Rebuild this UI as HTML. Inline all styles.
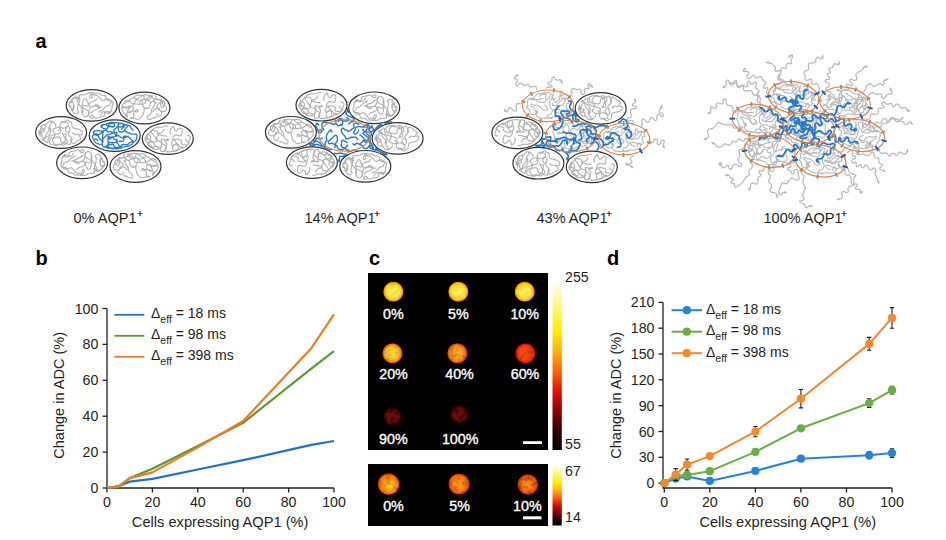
<!DOCTYPE html>
<html><head><meta charset="utf-8"><style>
html,body{margin:0;padding:0;background:#fff;width:946px;height:540px;overflow:hidden}
svg{display:block;font-family:"Liberation Sans", sans-serif}
</style></head><body>
<svg width="946" height="540" viewBox="0 0 946 540">
<defs><g id="g0"><path d="M-18.3 .2l0 .1 0 .3 0 .4-.1 .5 0 .5-.2 .5-.2 .5-.2 .5-.1 .6 0 .6 .1 .7 .2 .7 .2 .6 .3 .6 .4 .4 .4 .4 .5 .3 .4 .1 .5 .1 .6-.1 .5-.1 .5-.3 .5-.3 .5-.4 .3-.4 0-.4-.2-.5-.4-.5-.3-.6-.1-.6 0-.8 .1-.8 .1-.8 .1-.9 .1-.8 .2-.9 .1-.7 .3-.6 .2-.5 .3-.5 .2-.4 .1-.5 0-.5-.1-.5-.2-.5-.3-.5-.4-.6-.4-.5-.6-.3-.6-.2-.8-.1-.8 .1-.8 .1-.7 .2-.5 .1-.6 .2-.4 .3-.3 .5-.2 .5-.2 .6 0 .6 .2 .5 .3 .3 .5 .3 .4 .4 .3 .4 .3 .6 .3 .7 .2 .6 .1 .7 0 .6 0 .7 0 .6-.2 .7-.1 .6-.2 .6-.3 .5-.4 .4-.4 .2-.5 0-.3-.1-.2-.3-.1-.4 .2-.6 0-.6-.2-.6-.2-.7-.4-.6-.3-.4-.2-.3-.1-.2 M-.6 -11.6l0 .1-.2 .3-.2 .4-.3 .5-.3 .5-.2 .6-.2 .5-.2 .6 0 .5 .2 .3 .3 .3 .6 .1 .4-.1 .4-.3 .3-.6 .2-.7 .1-.7 .1-.7 0-.6 0-.6 .1-.3 .3 0 .5 .2 .6 .6 .7 .4 .6 .1 .5 0 .6-.2 .5 0 .5 .2 .5 .4 .4 .5 .5 .6 .5 .5 .5 .4 .4 .4 .5 .5 .4 .4 .4 .5 .4 .5 .4 .4 .4 .2 .5 0 .5-.2 .5-.1 .7-.3 .7-.3 .7-.3 .8-.2 .7-.1 .8 .1 .7 .2 .8 .3 .6 .4 .7 .5 .6 .5 .4 .5 0 .3-.2 .3-.5 .2-.4 .3-.4 .5-.3 .6-.2 .8-.4 .6-.4 .4-.5 .3-.6 .2-.6 .1-.6 .1-.5 .2-.5 .2-.4 .3-.5 .4-.4 .5-.4 .6-.5 .6-.5 .5-.5 .4-.6 .3-.5 .3-.6 .3-.5 .3-.6 .3-.3 .2-.3 .2-.1 .1 M-5 11l.1 0 .2-.1 .4-.2 .5-.2 .4-.4 .3-.4 .3-.6 .1-.7 0-.7-.1-.6-.3-.6-.4-.6-.4-.6-.5-.4-.5-.3-.6-.2-.5-.3-.6-.3-.6-.3-.6-.4-.6-.5-.4-.4-.3-.5-.3-.5-.1-.5-.1-.7 0-.7 .1-.7 .1-.8 .2-.7 .2-.7 .3-.6 .3-.6 .4-.6 .4-.6 .6-.5 .4-.2 .5 0 .5 .4 .5 .7 .4 .8 .3 .7 .4 .7 .3 .8 .2 .7 .3 .6 .3 .6 .3 .6 .3 .5 .3 .4 .3 .4 .4 .4 .5 .2 .5 0 .7-.2 .8-.4 .7-.3 .6-.4 .4-.4 .3-.4 .4-.3 .5-.1 .6 0 .7 .2 .6 .3 .6 .3 .6 .5 .6 .5 .3 .5 .1 .5-.2 .3-.5 .4-.5 .3-.5 .3-.6 .3-.6 .2-.6 .3-.7 .2-.7 .3-.7 .2-.7 .3-.6 .4-.6 .5-.6 .5-.4 .3-.2 .3-.2 .1 M16.8 6.9l.2 0 .4-.1 .6-.2 .8-.3 .6-.4 .5-.5 .2-.7 .1-.8 0-.7 0-.7 .1-.6 0-.5 .1-.6 .1-.5 .2-.4 .3-.5 .2-.5 .1-.5 0-.6-.1-.7-.2-.6-.3-.4-.5-.3-.5-.3-.7-.1-.6-.1-.7 0-.7 0-.7-.1-.5-.3-.5-.5-.4-.7-.3-.7-.3-.7-.2-.7-.1-.7-.2-.5-.3-.3-.5-.2-.5 0-.6 0-.7-.1-.7-.1-.8-.1-.7-.2-.5-.4-.5-.4-.3-.5-.4-.4-.5-.1-.5 0-.7 .2-.6 .1-.6 0-.7-.1-.6-.1-.7-.2-.7-.1-.8-.1-.8 0-.8-.1-.7 .1-.8 .1-.7 .1-.7 .3-.6 .3-.6 .3-.5 .4-.7 .3-.6 .2-.8 .1-.8 0-.8 0-.8 .1-.7 0-.8 .1-.6 .1-.4 .3-.1 .4 .1 .6 0 .4 0 .3 .1 .1 M-9.5 8.3l.1-.1 .1-.3 .1-.4 .2-.6 .1-.6 0-.6-.2-.7-.2-.8-.2-.7-.4-.7-.3-.6-.5-.6-.4-.6-.4-.6-.4-.5-.5-.6-.4-.5-.3-.6-.3-.7-.3-.7-.2-.6-.3-.6-.2-.6-.2-.5-.2-.5-.3-.5-.3-.5-.4-.5-.4-.3-.5-.1-.6 .1-.6 .3-.5 .4-.4 .4-.4 .4-.4 .5-.4 .5-.4 .5-.5 .4-.5 .5-.5 .5-.3 .6-.3 .7-.1 .7 0 .7 .2 .7 .3 .7 .6 .6 .2 .4 .1 .1-.3-.1-.5-.3-.3-.5-.3-.5-.1-.7 .1-.8 .2-.7 .4-.5 .6-.3 .8-.2 .6-.2 .3-.4 0-.4-.1-.5-.1-.5 .2-.7 .3-.6 .4-.8 .5-.6 .6-.4 .6-.3 .7-.2 .7 0 .6 0 .7 .2 .5 .3 .6 .3 .5 .3 .5 .5 .5 .4 .3 .4 .2 .2 .1 .1 M1.9 11.5l-.1 .1-.2 .2-.3 .3-.5 .5-.4 .2-.5 .2-.6 0-.5-.2-.4-.2-.2-.4 0-.4 .2-.5 .3-.4 .3-.4 .4-.3 .5-.2 .5 0 .6 .2 .5 .4 .5 .6 .5 .5 .6 .4 .6 .3 .5 .3 .6 0 .7-.1 .7-.2 .7-.3 .6-.3 .7-.1 .5-.1 .6 0 .6 0 .6-.2 .8-.2 .8-.3 .5-.4 .4-.5 .1-.5-.1-.7-.1-.6 0-.6 .1-.5 .1-.5 .2-.4 .4-.3 .4-.1 .6 .1 .6 .1 .7 .1 .7 .2 .8 .3 .5 .3 .3 .3 0 .4-.3 .5-.2 .1-.1-.1-.1-.3 .1-.7 .2-.5 .2-.4 .4-.3 .5-.2 .3 0 .1 .3-.2 .5-.5 .7-.5 .5-.7 .2-.7 .1-.9-.2-.8-.3-.7-.2-.7-.3-.7-.4-.7-.1-.6 0-.6 .1-.6 .3-.5 .4-.4 .5-.3 .5-.2 .6-.2 .5-.1 .3 0 .1 M5.3 -6.7l-.1 .1-.2 .2-.3 .3-.4 .5-.5 .4-.6 .3-.6 .3-.8 .2-.7 .2-.6 .2-.6 .3-.5 .2-.5 .3-.5 .4-.5 .5-.4 .5-.4 .5-.4 .5-.2 .6-.2 .5-.3 .4-.4 .1-.6-.1-.7-.3-.8-.3-.7-.1-.6-.1-.7-.1-.5 .2-.3 .3 0 .4 .1 .7 0 .6-.1 .7-.1 .7-.2 .8-.2 .7 0 .6 0 .7 .2 .5 .1 .6 .2 .7 .3 .7 .2 .8 .4 .6 .5 .6 .6 .4 .7 .4 .7 0 .6-.1 .6-.4 .6-.7 .5-.7 .2-.6 .2-.7 0-.6 .1-.7 .1-.8 .2-.7 .2-.8 .4-.8 .4-.7 .5-.7 .6-.6 .6-.4 .6-.4 .6-.2 .6 0 .6-.1 .6 0 .6-.1 .5 0 .6 0 .5 .2 .6 .2 .5 .3 .7 .3 .7 .1 .8 .1 .8 0 .7 0 .4-.1 .2 0" fill="none" stroke="#afafaf" stroke-width="1.1" stroke-linejoin="round" stroke-linecap="round"/><path d="M-22.4 -1L-20.2 .7L-21.8 1.7zM6.1 7.2L7.9 5.1L8.8 6.8zM-1.8 8.4L-.5 5.9L.8 7.3zM-12.1 -6.7L-13.3 -9.1L-11.4 -9.4z" fill="#afafaf"/></g><g id="g1"><path d="M11.9 -4.9l-.2-.2-.2-.2-.5-.4-.6-.5-.4-.5-.2-.6 0-.6 .1-.6-.1-.6-.3-.4-.6-.3-.7-.2-.7-.2-.4-.4-.4-.4-.2-.5-.3-.3-.4 0-.6 .2-.7 .5-.7 .5-.6 .6-.5 .7-.4 .7-.4 .8-.4 .8-.3 .8-.3 .8-.3 .6-.5 .4-.5 .3-.7 0-.7 .1-.7 .1-.8 .1-.7 0-.8 .1-.8 0-.7-.1-.7-.1-.8-.1-.8 0-.8-.1-.8-.1-.7-.1-.6-.2-.6-.3-.4-.3-.6-.4-.5-.4-.6-.4-.7-.5-.6-.2-.6 .1-.6 .3-.6 .5-.6 .5-.7 .4-.8 .3-.8 .3-.7 .3-.6 .5-.4 .6-.4 .6-.1 .5 .1 .3 .3 .2 .5-.1 .5 .1 .5 .3 .5 .3 .5 .5 .5 .4 .7 .1 .7-0 .8-.2 .6-.2 .4-.1 .2-.1 M-17.9 5.5l.1-.1 .2-.2 .3-.3 .4-.4 .4-.4 .5-.2 .5-.2 .5 0 .6-.1 .7-.2 .7-.1 .9-.3 .7-.1 .7 .1 .5 .1 .5 .3 .6 .2 .6 .2 .6 .1 .8 .1 .5-.2 .3-.3 0-.5-.3-.8-.3-.4-.4-.1-.5 .2-.6 .5-.6 .6-.5 .6-.6 .6-.5 .7-.3 .7-.1 .6 0 .6 .3 .5 .1 .5-.1 .5-.2 .5-.3 .4-.5 .3-.6 .3-.8 .1-.8 .1-.5 .1-.1 .1 .2 0 .5 .2 .6 0 .6 0 .5 0 .6-.1 .6 0 .6 .1 .7 .1 .6 .2 .7 .2 .6 .2 .7 .1 .6 0 .6-.1 .6-.2 .6-.5 .5-.5 .6-.6 .5-.4 .4-.4 .5-.4 .3-.4 .3-.4 .1-.5 0-.6 .1-.6 .1-.5 .2-.6 .3-.5 .2-.6 .1-.6 .1-.6-.1-.7 .2-.5 .4-.3 .6-.2 .9 0 .6 0 .5 0 .2-.1 M8.6 3.6l.1-.1 .1-.2 .1-.4 .2-.5 .3-.4 .5-.4 .5-.3 .7-.4 .7-.2 .7-.3 .8-.1 .8-.1 .6 .1 .4 .3 .2 .6 .1 .7 .1 .6 .3 .4 .5 .3 .6 .1 .6 0 .6 .1 .7 .1 .7 0 .6-.1 .6-.2 .5-.3 .4-.4 .3-.5 .2-.5 .2-.6 0-.6 0-.5-.2-.6-.2-.5-.4-.5-.5-.4-.6-.4-.7-.3-.8-.3-.6-.4-.3-.5-.1-.7 .2-.8 0-.5-.2-.1-.5 .1-.7 .4-.5 .5-.2 .5-.1 .6 .2 .6 .2 .6 .2 .6 .2 .5 .1 .6 .3 .3 .4 .1 .6-.1 .6-.3 .5-.4 .5-.5 .3-.6 .3-.7 .1-.7 0-.6-.1-.6-.3-.5-.3-.4-.5-.4-.6-.3-.6-.3-.7-.2-.6-.2-.7-.1-.6-.2-.6-.2-.6-.2-.6-.2-.5-.2-.4-.4-.5-.5-.4-.5-.4-.7-.3-.6-.1-.3-.1-.2 M-4 -7.8l.1 0 .3 .1 .5 0 .6 .1 .3 .2 .2 .3-.1 .5-.2 .7-.1 .7 0 .7 .3 .7 .4 .8 .4 .7 .3 .7 .3 .7 .3 .6 .4 .4 .5 .2 .6 0 .8-.1 .7-.2 .7-.2 .6-.1 .6-.3 .5-.3 .3-.4 .1-.5 .1-.6 0-.6 .2-.7 .2-.7 .3-.8 .4-.6 .6-.5 .7-.3 .8-.2 .7 .1 .6 .3 .3 .5 .2 .8 0 .7-.1 .7-.2 .7-.4 .7-.4 .7-.5 .6-.5 .7-.5 .6-.4 .7-.3 .7-.1 .8 .1 .8-.1 .7-.3 .7-.5 .7-.5 .5-.6 .6-.6 .5-.6 .4-.6 .5-.4 .5-.2 .5 0 .6 .1 .7 .3 .6 .4 .4 .4 .3 .6 .1 .7 0 .6-.2 .7-.3 .8-.5 .7-.3 .7-.4 .7-.2 .8-.2 .5-.1 .4-.1 .1 0 M-10.7 -10l.2 .1 .4 .1 .5 .2 .7 .3 .7 .1 .7-.1 .7-.2 .7-.3 .7-.4 .6-.4 .6-.5 .6-.6 .7-.4 .7-.4 .7-.3 .8-.2 .7-.1 .8-.1 .7 .1 .7 0 .6 .1 .7 .1 .6 .1 .7 .1 .7 .1 .6 .1 .8 0 .7 .1 .4 .2 .1 .3-.2 .4-.6 .6-.5 .5-.5 .5-.4 .5-.4 .5-.5 .3-.6 .2-.6 .1-.8 0-.7-.2-.6-.2-.7-.4-.6-.5-.5-.5-.3-.6-.1-.5 .1-.6-.2-.5-.4-.3-.6-.1-.9 0-.8 0-.8 0-.7-.1-.7-.1-.7 0-.7 .1-.6 .1-.6 .1-.5 .3-.5 .2-.4 .4-.5 .4-.4 .5-.5 .4-.6 .4-.6 .4-.6 .4-.6 .4-.6 .3-.6 .4-.7 .2-.7 .2-.7 0-.7 0-.7 .2-.7 .2-.6 .3-.5 .5-.4 .4-.3 .2-.1 .1 M11.9 5.4l.1 .2 .1 .3 .3 .5 .3 .6 .3 .5 .5 .4 .5 .2 .6 0 .6 0 .5-.2 .6-.4 .4-.4 .4-.6 .2-.5 0-.7-.1-.7-.3-.6-.3-.6-.5-.5-.5-.4-.5-.4-.5-.4-.4-.4-.3-.4-.4-.4-.3-.4-.3-.4-.3-.5-.2-.4 0-.5 .2-.5 .3-.4 .4-.5 .4-.5 .5-.5 .6-.4 .6-.6 .5-.6 .5-.6 .5-.7 .2-.6 .1-.6-.3-.4-.4-.3-.4-.2-.5 0-.5 .2-.5 .4-.6 .2-.6 0-.6-.2-.7-.3-.5-.1-.5 .1-.4 .3-.3 .6-.4 .6-.6 .4-.7 .4-.8 .3-.7 .1-.6 0-.6-.2-.5-.4-.5-.3-.6-.3-.8-.2-.8-.2-.8-.2-.7-.2-.7-.2-.7-.2-.7-.1-.7 0-.8 .1-.8 .3-.6 .4-.5 .5-.3 .6-.1 .8-.1 .6 0 .4 0 .2 M-17.6 6.2l.1 .2 .1 .3 .2 .6 .3 .7 .1 .5-.1 .2-.2 0-.5-.3-.4-.3-.3-.4-.2-.4-.1-.5-.3-.5-.3-.4-.5-.4-.6-.3-.5-.4-.5-.5-.3-.6-.3-.7-.3-.7-.2-.6-.2-.6-.1-.6 .1-.5 .3-.3 .5-.1 .7-.1 .7 0 .8 0 .7-.1 .8 0 .7-.1 .7-.2 .7-.3 .6-.3 .6-.2 .6-.2 .6 0 .6 .1 .5 .1 .5 .2 .5 .3 .4 .4 .3 .5 .1 .4 0 .5-.2 .6-.3 .5-.3 .5-.3 .5-.4 .4-.5 .5-.6 .3-.7 .4-.8 .2-.7 .1-.5 0-.4-.3-.3-.5-.1-.5 .1-.6 .2-.7 .4-.7 .5-.7 .4-.6 .5-.5 .4-.4 .5-.4 .6-.5 .6-.4 .7-.4 .6-.6 .5-.6 .5-.7 .3-.8 .3-.7 .4-.7 .3-.6 .3-.5 .4-.4 .5-.2 .5 0 .5 .3 .5 .1 .2 .1 .2 .1" fill="none" stroke="#afafaf" stroke-width="1.1" stroke-linejoin="round" stroke-linecap="round"/><path d="M-14.1 -1L-16.4 .7L-16.9 -1.2zM4.5 .4L2 1.4L1.9 -.5zM10.1 -13.3L12.2 -11.4L10.5 -10.5zM12.8 8.9L10.5 10.5L10.1 8.6z" fill="#afafaf"/></g><g id="g2"><path d="M-5.5 -6.4l0-.1 .1-.3 0-.4 .1-.5-.1-.5-.3-.5-.4-.5-.6-.4-.6-.3-.6-.3-.6-.2-.6-.2-.4 .1-.3 .2-.2 .4 0 .6-.1 .6-.3 .6-.4 .5-.5 .6-.4 .6-.3 .6-.2 .8 0 .7 0 .7 0 .7 0 .5 0 .5 0 .5-.2 .4-.3 .4-.5 .3-.4 .3-.4 .4-.3 .4-.3 .4-.3 .5-.3 .5-.2 .5-.2 .6-.2 .6-.3 .5-.4 .6-.4 .5-.4 .3-.4 0-.3-.3-.3-.5-.3-.6-.2-.7-.2-.7-.1-.8-.3-.8-.4-.6-.4-.6-.6-.6-.4-.5-.1-.4 .2-.4 .4-.4 .5-.3 .5-.1 .6-.1 .6 0 .6-.1 .6-.3 .5-.5 .5-.7 .3-.6 .2-.6 .1-.5-.1-.6 .1-.5 .3-.5 .4-.6 .5-.5 .5-.6 .6-.5 .5-.6 .5-.5 .5-.4 .7-.2 .7 0 .8 .2 .6 .2 .4 .1 .2 0 M1.5 1.8l.2 0 .4-.1 .5-.2 .7-.2 .6 0 .5 .2 .4 .5 .2 .7 .1 .7-.1 .6-.2 .6-.3 .6-.3 .7-.1 .7-.1 .8 .1 .8-.2 .7-.3 .5-.6 .3-.7 .1-.6 .1-.6-.1-.5-.2-.4-.3-.3-.5-.2-.5-.1-.7 0-.8-.2-.7-.3-.6-.4-.4-.6-.3-.7-.2-.7 0-.8 0-.8 .2-.8 .2-.7 .1-.5 .2-.5 .2-.4 .3-.4 .4-.2 .5-.2 .6 0 .6 .1 .7 .2 .6 .4 .6 .4 .6 .4 .5 .5 .5 .6 .5 .6 .2 .5 .1 .6-.1 .6-.3 .5-.1 .6 0 .5 .1 .5 .3 .5 .1 .6-.1 .6-.3 .6-.6 .7-.3 .6-.3 .6-.1 .7-.1 .6 .1 .6 .1 .5 .2 .5 .3 .5 .3 .6 .2 .6 .3 .6 .2 .6 0 .4-.2 .3-.3 .1-.6 .3-.6 .2-.7 .3-.7 .3-.8 .3-.6 .2-.4 0-.2 M18.7 2.3l.2 0 .3 0 .4 .1 .6 0 .5-.2 .3-.4 .3-.5 .1-.8 0-.8-.3-.6-.3-.6-.6-.4-.6-.4-.6-.4-.7-.3-.6-.2-.8-.2-.8-.2-.8-.2-.8-.1-.8-.2-.7-.2-.6-.2-.6-.2-.5-.4-.3-.5-.1-.7 0-.8-.1-.8-.1-.7-.1-.6-.2-.6-.3-.4-.4-.3-.5-.2-.6-.1-.6-.2-.3-.2-.3-.4-.2-.5-.2-.3-.5-.1-.6 .2-.7 .4-.7 .4-.8 .3-.8 .3-.8 .3-.7 .3-.7 .3-.6 .5-.6 .4-.4 .5-.3 .6-.1 .6 .1 .7 .2 .6 .3 .5 .4 .5 .6 .3 .7 .3 .7 .1 .7 0 .7-.1 .7-.2 .6-.2 .5-.4 .3-.3 .5-.3 .5-.1 .6-.1 .7 .1 .5 .2 .4 .4 .2 .5 .1 .7 0 .7 0 .7-.2 .7-.2 .7-.2 .5-.1 .3 0 .2 M-2.7 -2l.1-.1 .3-.3 .4-.4 .5-.6 .2-.5 0-.5-.2-.4-.4-.4-.5-.2-.6-.1-.6 .1-.6 .2-.6 .2-.5 .2-.6 .3-.4 .2-.5 .3-.5 .3-.5 .4-.6 .4-.3 .4 0 .4 .2 .4 .4 .3 .4 .5 .4 .4 .3 .6 .4 .6 0 .5-.2 .5-.4 .4-.7 .3-.6 .3-.7 .3-.7 .2-.6 .1-.6 .3-.4 .4-.4 .5-.2 .6-.3 .5-.2 .6-.2 .5-.2 .5-.2 .6 0 .5-.1 .6 .1 .7-.1 .4-.3 .2-.3-.1-.5-.3-.5-.3-.6-.4-.5-.3-.6-.5-.6-.4-.6-.3-.6-.4-.6-.3-.4-.2-.1 0 .1 .2 .3 .4 .4 .2 .4 0 .4-.3 .6-.4 .4-.5 .5-.3 .4-.4 .4-.3 .5-.3 .4-.4 .5-.3 .6-.4 .5-.5 .5-.5 .5-.6 .5-.6 .4-.6 .3-.6 .2-.6 .1-.5 0-.6-.1-.7-.1-.8-.2-.8-.2-.6-.1-.4 0-.2 M11.5 .4l.2 .1 .3 .3 .4 .3 .6 .6 .6 .3 .7 .1 .8 0 .8-.3 .6 0 .6 .1 .4 .4 .3 .5 .4 .6 .4 .5 .4 .5 .5 .5 .3 .5 0 .4-.2 .5-.5 .3-.5 .4-.6 .4-.6 .4-.7 .4-.6 .4-.7 .5-.6 .5-.5 .5-.6 .4-.5 .4-.5 .2-.5 .1-.4 0-.4-.2-.3-.3-.3-.5-.3-.5-.2-.6-.2-.6-.2-.7-.1-.6 .1-.6 .2-.4 .3-.5 .1-.4-.2-.4-.5-.3-.7-.4-.6-.5-.5-.6-.4-.7-.2-.8-.3-.7-.5-.7-.6-.5-.7-.5-.5-.6-.3-.5 0-.7 .1-.7 .3-.7 .4-.6 .4-.7 .6-.6 .5-.6 .2-.6 .2-.6 0-.6-.1-.5-.2-.5-.4-.4-.5-.3-.6-.2-.6-.1-.6 .1-.6 .2-.6 0-.6 0-.5-.2-.6-.4-.3-.3-.3-.1-.1-.1 M1.2 .7l0 .1 .2 .2 .2 .4 .3 .5 .2 .5 .3 .6 .3 .6 .3 .7 .4 .6 .5 .6 .6 .5 .6 .4 .5 .5 .4 .6 .2 .6 .1 .7-.1 .6-.2 .6-.3 .6-.5 .5-.5 .4-.6 .4-.7 .4-.7 .2-.7 .1-.6 0-.6-.3-.4-.4-.6-.3-.6 0-.7 .2-.7 .5-.7 .3-.7 .2-.5 .1-.5 0-.6 0-.5-.1-.6-.1-.6-.1-.6 0-.6-.1-.6-.1-.5-.1-.5-.1-.5-.3-.4-.4-.5-.5-.3-.5-.2-.6 0-.7 .1-.6 .2-.7 .2-.6 .3-.5 .3-.6 .4-.4 .5-.2 .5-.1 .6 .1 .6-.2 .4-.2 .4-.4 .2-.6 .3-.5 .3-.5 .3-.5 .2-.5 .4-.3 .5-.3 .6-.2 .7-.1 .7-.1 .6-.2 .5-.3 .4-.3 .4-.3 .3-.5 .2-.5 .1-.6 .1-.7-.1-.6-.2-.7-.4-.6-.2-.5-.2-.4-.1-.1 M-15 -8l-.2 .1-.4 0-.7 0-.8 .1-.7 .2-.7 .2-.5 .3-.4 .5-.4 .5-.3 .6-.2 .6-.1 .7-.1 .8-.2 .8-.2 .7-.1 .9-.1 .7 0 .8 .2 .6 .2 .7 0 .3-.1 0-.4-.3-.7-.7-.3-.6-.1-.6 .2-.5 .5-.6 .4-.6 .3-.6 .2-.7 .1-.8 .2-.5 .4-.3 .4 0 .6 .2 .5 .3 .5 .3 .5 .4 .4 .5 .2 .5 .1 .5 0 .4-.2 .5-.4 .3-.4 .2-.7 .1-.7-.1-.7-.1-.7-.2-.6-.3-.5-.3-.4-.1-.3 .2 0 .5 0 .7 .2 .7 .2 .7 .3 .7 .4 .7 .3 .6 .2 .3 .1 .2" fill="none" stroke="#afafaf" stroke-width="1.1" stroke-linejoin="round" stroke-linecap="round"/><path d="M-7 -10.5L-9.7 -10.2L-9.2 -12.1zM11.4 5.6L11.3 8.3L9.5 7.6zM7.5 1.1L7.4 -1.7L9.2 -1.1zM-11.6 -6.2L-10 -3.9L-11.9 -3.4z" fill="#afafaf"/></g><g id="g3"><path d="M-3.7 -9.4l-.1 .1-.1 .3-.2 .3-.3 .6-.3 .5-.4 .5-.4 .5-.4 .5-.5 .3-.5 .2-.5 0-.6-.1-.4 0-.4 .3-.4 .5-.2 .7-.3 .7-.3 .5-.4 .5-.3 .3-.3 .5-.1 .6 0 .7 .2 .8 0 .8-.2 .6-.3 .5-.4 .4-.5 .3-.7 .3-.7 .2-.8 .2-.8 .1-.7 0-.7-.1-.5-.1-.5 0-.5 .3-.4 .5-.3 .6-.2 .3-.1-.1 .1-.5 .1-.8 .2-.8 .3-.7 .4-.7 .5-.7 .4-.7 .1-.6 .1-.7-.2-.6-.2-.5-.3-.5-.4-.5-.5-.3-.5-.2-.5 0-.5 .2-.5 .4-.3 .5-.1 .5 .1 .5 .3 .5 .4 .6 .5 .5 .5 .5 .7 .5 .6 .5 .7 .4 .6 .3 .6 .3 .6 .4 .5 .4 .3 .4 .3 .6 .3 .5 .4 .6 .3 .6 .5 .6 .5 .5 .6 .5 .6 .4 .8 .3 .6 .3 .4 .1 .2 .1 M2.9 -4.8l-.1-.2-.1-.2-.2-.3-.2-.5-.2-.4 0-.5 0-.6 .2-.5 .2-.6 .3-.5 .3-.5 .4-.5 .4-.5 .4-.5 .4-.5 .4-.5 .4-.3 .2 0 .2 .3 .1 .5 .2 .6 .2 .6 .1 .7 .2 .7 .3 .6 .4 .4 .5 .2 .6 .1 .5-.1 .4-.2 .3-.4 .3-.6 .4-.5 .6-.4 .6-.3 .8-.2 .6 0 .5 .2 .4 .4 .3 .5 .2 .6 0 .6 0 .6-.1 .7-.2 .7-.1 .7-.2 .8-.1 .8-.3 .6-.5 .4-.5 .1-.7-.1-.7-.2-.7-.2-.7-.2-.8-.3-.7-.1-.6 .2-.6 .3-.6 .6-.4 .5-.4 .5-.2 .5-.1 .6-.2 .5-.1 .6-.1 .7-.2 .7-.1 .7-.2 .6-.3 .6-.3 .5-.1 .5 0 .6 .2 .6 .3 .6 .4 .4 .5 .1 .6 0 .6-.4 .6-.3 .6-.3 .5-.4 .4-.4 .4-.2 .2-.2 .1-.1 M-3.2 11.8l0-.2 .2-.4 .3-.6 .3-.8 .3-.8 .4-.8 .3-.8 .3-.8 .1-.7 0-.6-.2-.6-.3-.4-.4-.5-.3-.4-.3-.5-.3-.5-.1-.4 .1-.4 .3-.3 .6-.2 .6-.2 .6-.1 .6-.1 .7 0 .3 .1 .1 .2-.3 .3-.7 .3-.6 .2-.7 0-.8-.2-.7-.3-.8-.3-.8-.2-.8-.1-.8 0-.5 0-.2 .2 .1 .3 .3 .4 .3 .5 .1 .5 0 .7-.2 .7-.1 .8-.1 .7-.2 .8-.2 .7-.2 .8-.2 .6-.3 .6-.3 .6-.4 .4-.5 .3-.5 .2-.7-.1-.6 .1-.6 .1-.5 .1-.5 .2-.5 0-.6-.2-.5-.3-.6-.5-.6-.5-.5-.3-.5-.2-.6-.1-.5-.3-.4-.4-.4-.6-.3-.8-.1-.4 .1-.1 .4 .3 .6 .5 .5 .6 .4 .5 .3 .6 .3 .5 .2 .3 .1 .3 .1 .1 M17.5 .8l0 .1 .2 .2 .3 .3 .4 .4 .4 .4 .5 .4 .6 .4 .7 .3 .4 .4 .2 .4 0 .4-.2 .5-.4 .4-.4 .3-.6 .3-.6 .2-.6 .2-.7 0-.7 0-.7-.1-.6-.2-.7-.1-.6-.3-.5-.2-.4-.3-.1-.3 .1-.4 .4-.4 .2-.4 0-.4-.1-.4-.3-.4-.3-.4-.5-.4-.5-.3-.6-.2-.7-.2-.7-.2-.8-.1-.8 0-.7 0-.7 .1-.6 .1-.6 .2-.2 .2 0 .3 .2 .2 .6 .2 .4 .3 .5 .5 .4 .6 .4 .7 .3 .8 .3 .7 .4 .8 .3 .7 .2 .8 .2 .8 .1 .8 .1 .8-.1 .6-.3 .4-.6 .2-.7 0-.3-.1-.1 0 .3-.1 .6 0 .3 .1-.1 .1-.4 .2-.8 .4-.8 .2-.6 .2-.6 .2-.5 .1-.6 .1-.5 0-.6 .1-.6 .1-.6 .1-.7 0-.8 .1-.9-.1-.6 0-.4 0-.2 0 M-1.3 -2.5l-.2 0-.4-.1-.6 0-.7 0-.8-.1-.7-.1-.7-.2-.7-.3-.7-.2-.7-.1-.7 0-.8 .1-.5-.1-.3-.3-.2-.3 0-.5-.1-.6-.1-.6-.2-.6-.2-.6-.4-.5-.5-.3-.7-.1-.8 .1-.7 0-.8-.1-.7-.1-.7-.1-.6 0-.5 .4-.4 .5-.2 .8-.4 .6-.5 .5-.5 .3-.7 .1-.5 .3-.5 .4-.3 .5-.3 .7-.2 .6-.2 .5-.2 .6-.1 .5 0 .5 .1 .4 .2 .5 .4 .4 .3 .2 .3 0 .2-.3 .2-.5 .1-.5 0-.5-.2-.5-.4-.6-.4-.2-.3-.1-.4 .2-.4 .5-.3 .5-.1 .5-.1 .7 .1 .7 .2 .7 .3 .6 .5 .6 .7 .5 .5 .5 .3 .5 .1 .5-.1 .6 .2 .5 .3 .6 .4 .5 .6 .6 .6 .4 .7 .3 .7 .1 .7 .1 .7 0 .7-.2 .7-.2 .7-.3 .5-.2 .3-.1 .2-.1 M19.4 -3.1l.2 0 .3 0 .4 .1 .6 0 .5 .1 .4 .2 .3 .4 .3 .5 .1 .5 .1 .5-.2 .6-.2 .7-.3 .6-.3 .7-.3 .7-.4 .7-.3 .7-.3 .6-.1 .6-.1 .6-.2 .4-.2 .5-.4 .3-.4 .4-.4 .3-.4 .3-.5 .3-.4 .2-.6 .2-.6 .1-.8-.1-.8-.1-.7 0-.6 .2-.4 .4-.2 .4-.3 .5-.4 .4-.5 .4-.7 .4-.5 .3-.6 .3-.6 .3-.5 .3-.6 .1-.6 .1-.6 0-.6-.2-.4-.3-.4-.5-.3-.7-.1-.8-.1-.8-.1-.7 .1-.6 .1-.5 .2-.5 .3-.4 .4-.3 .5-.2 .5-.2 .7-.2 .6-.2 .7-.1 .7 0 .7 .2 .6 .4 .5 .6 .5 .6 .4 .6 .3 .6 .2 .7 .2 .3 .3 0 .3-.3 .3-.7 .2-.3 .1 0 0 .3-.1 .7 .1 .4 .2 .2 .5 0 .6-.3 .4-.2 .3-.1 .2-.1 M-6.1 7.4l0 .2-.2 .3-.2 .5-.4 .6-.2 .7-.1 .7 0 .7 .1 .7 .2 .5 .3 .4 .4 .2 .5 .1 .6 0 .5 0 .6-.1 .7-.1 .5-.3 .4-.4 .3-.6 .3-.8 .1-.7 0-.8-.1-.7-.3-.8-.3-.6-.4-.4-.4-.3-.6-.1-.6-.3-.5-.4-.5-.5-.5-.7-.5-.6-.5-.4-.4-.4-.5-.2-.6-.1-.5-.2-.6 0-.6-.1-.5-.2-.5-.3-.4-.6-.3-.7-.3-.7-.3-.6-.4-.6-.3-.5-.4-.6-.4-.6-.5-.6-.5-.6-.4-.7-.4-.5-.4-.6-.3-.6-.1-.5 0-.5 .3-.4 .4-.5 .4-.4 .5-.4 .5-.4 .5-.4 .6-.3 .6-.3 .6-.3 .7-.2 .6-.2 .7-.1 .7 0 .7 0 .7 .1 .7 0 .7 0 .6 0 .6-.1 .6-.2 .6-.2 .5-.3 .5-.2 .6-.1 .5-.1 .6-.1 .5 0 .2 0 .2 0" fill="none" stroke="#afafaf" stroke-width="1.1" stroke-linejoin="round" stroke-linecap="round"/><path d="M-7.7 9.5L-10.5 9.4L-9.7 7.6zM10.2 3.8L8.8 6.2L7.6 4.7zM-14.4 11.3L-16.5 9.4L-14.7 8.5zM-2.4 13.2L.3 12.3L.2 14.2z" fill="#afafaf"/></g><g id="b0"><path d="M-16.9 4.9l-.2-.1-.2-.2-.3-.3-.5-.5-.5-.3-.5 0-.5 .1-.5 .2-.3 .4-.2 .4 .1 .4 .3 .5 .4 .5 .4 .4 .5 .5 .6 .4 .7 .4 .7 .3 .7 .3 .8 .3 .7 .2 .6 0 .5-.1 .5-.3 .4-.3 .3-.4 .2-.5 .2-.6 .1-.6 0-.7 0-.6-.2-.8 0-.6-.1-.6 .1-.6 0-.5 .1-.5 0-.7 .1-.7 0-.7 0-.8 .1-.6 .2-.7 .2-.5 0-.5-.2-.2-.4-.2-.5 .1-.6 0-.6-.1-.6-.1-.7-.2-.6-.2-.7 0-.6 0-.7 .1-.7 .1-.6 .1-.6 0-.5 .1-.5 .1-.4 .4-.2 .5-.1 .6 .1 .6 .3 .5 .5 .5 .7 .4 .7 .4 .6 .2 .6 .2 .5 .1 .4 .2 .3 .4 .3 .4 .1 .6 .3 .5 .4 .7 .5 .6 .5 .7 .5 .4 .6 .1 .4-.2 .5-.4 .4-.5 .5-.4 .5-.5 .4-.4 .5-.5 .4-.5 .4-.4 .4-.5 .4-.4 .6-.3 .7-.2 .8-.2 .7-.2 .8-.2 .7-.3 .7-.4 .5-.3 .3-.2 .2-.1 M-12.1 -9.5l0-.1 0-.3 .1-.3 0-.6 .3-.3 .4-.2 .6 0 .7 .2 .7 .2 .8 .3 .7 .4 .7 .5 .7 .3 .7 .3 .6 .1 .6 0 .7 .1 .6 0 .6 .1 .6 .2 .5 0 .5-.2 .4-.3 .3-.4 .2-.5 0-.5-.1-.6-.4-.7-.4-.4-.4-.2-.5 .1-.5 .2-.6 .2-.7 0-.6-.1-.8-.2-.7-.1-.6 0-.6 .1-.5 .3-.6 .2-.5 .2-.5 .2-.6 .2-.5 .1-.7 .1-.6 .1-.7 0-.6 .2-.4 .3-.3 .4-.2 .5 0 .5 .2 .4 .4 .3 .5 .3 .6 .3 .7 .3 .7 .2 .8 .3 .6 .3 .6 .5 .4 .7 .4 .7 .4 .5 .5 .3 .5 0 .6-.2 .6 0 .6 0 .7 .2 .8 .2 .7 .3 .6 .3 .7 .4 .6 .3 .5 .4 .5 .5 .3 .6 .4 .7 .3 .4 .5 .2 .5-.1 .6-.3 .5-.1 .6 .2 .6 .3 .5 .6 .6 .5 .6 .3 .6 .3 .6 .1 .6 0 .7 0 .6-.2 .7-.3 .5-.1 .4-.2 .2 0 M9.5 -5.4l.1 .1 .4 .3 .5 .4 .6 .6 .7 .4 .6 .4 .7 .2 .6 .1 .7 .2 .6 .2 .6 .3 .6 .4 .7 .3 .7 .1 .7 0 .7 0 .7-.1 .6 0 .6 .1 .6 .2 .4 .2 .3 .3 .1 .5 0 .5-.1 .6-.1 .7-.1 .7-.2 .8-.2 .7-.3 .6-.4 .5-.4 .4-.5 .4-.5 .3-.6 .1-.6 .1-.7 .1-.6 .1-.7 .1-.7 .2-.6 .2-.5 .4-.5 .5-.4 .6-.4 .4-.5 .3-.5 .1-.6-.1-.7-.1-.7 0-.7-.1-.7 0-.6 .1-.6 .2-.6 .3-.4 .5-.5 .5-.5 .3-.5 .4-.4 .3-.6 .2-.6 .2-.6 .1-.7 0-.7-.1-.6-.2-.5-.2-.4-.3-.4-.4-.3-.5-.3-.5-.3-.6-.4-.4-.5-.2-.7 .1-.8 .2-.7 .1-.7 .1-.6-.1-.5-.1-.5 0-.4 .3-.4 .5-.3 .8-.3 .5-.5 .4-.5 .2-.7 0-.5-.1-.5-.2-.5-.2-.4-.3-.3-.4-.2-.5-.1-.5-.1-.5 0-.6 0-.6 .1-.7 0-.7 .1-.5 0-.3 0-.2 M2.8 5.8l-.1 .1-.4 .2-.5 .2-.6 .4-.7 .2-.7 .2-.8 .1-.8-.1-.8 0-.7-.1-.8-.1-.7-.1-.6 .1-.5 .3-.4 .6-.4 .7-.1 .7 0 .6 .1 .6 .4 .5 .4 .5 .6 .5 .6 .4 .7 .4 .7 .3 .6 .1 .6 0 .5 0 .6-.1 .5 0 .6 0 .5 .1 .5 .1 .6 0 .5 .1 .5 0 .5-.2 .4-.2 .4-.3 .4-.5 .5-.3 .6-.2 .7-.1 .9 .1 .8 0 .8-.1 .7-.2 .8-.2 .7-.1 .6-.1 .7-.1 .6-.1 .6-.1 .7-.3 .6-.2 .7-.4 .6-.3 .5-.4 .6-.3 .5-.3 .4-.4 .3-.5 .3-.5 .1-.5 0-.5-.3-.5-.4-.4-.7-.4-.5-.4-.5-.5-.4-.4-.3-.5-.4-.5-.5-.4-.5-.4-.7-.4-.6-.3-.6-.2-.6-.1-.5 0-.6 0-.5 0-.5 .1-.5 0-.3 .2-.1 .3 .1 .6 .3 .7 .2 .6-.1 .7-.2 .6-.3 .6-.5 .5-.6 .2-.8 .1-.9 0-.6-.1-.4 0-.3 0 M6.8 -6.4l.1-.1 .2-.3 .4-.3 .5-.4 .5-.5 .4-.4 .3-.5 .3-.4 .4-.4 .4-.4 .5-.3 .6-.2 .6-.1 .4 .2 .3 .2 .3 .4 0 .5-.2 .4-.4 .4-.7 .4-.5 .5-.4 .6-.3 .5-.1 .7-.2 .6-.4 .5-.6 .5-.8 .3-.7 .3-.7 .1-.8 0-.8-.1-.6-.3-.5-.5-.3-.7-.2-.8-.2-.7-.1-.7-.1-.6-.2-.6 0-.6 0-.6 .2-.6 .2-.6 .3-.5 .5-.4 .7-.2 .8-.2 .7-.1 .7 .1 .6 .3 .6 .3 .2 .5 .1 .5-.3 .6-.5 .7-.5 .4-.6 .3-.6 .2-.5-.1-.6 0-.6-.2-.6-.1-.6-.2-.5 0-.5 .2-.4 .3-.3 .6-.3 .5-.5 .4-.5 .4-.7 .3-.4 .4-.1 .5 0 .6 .3 .7 .4 .6 .4 .3 .5 .1 .6 0 .4 .1 .2 .4 .1 .5 0 .8-.2 .6-.3 .6-.5 .4-.5 .3-.6 .3-.7 .3-.7 .3-.8 .3-.7 .3-.7 .3-.6 .4-.5 .3-.4 .3-.2 .2-.1 .1 M-3.4 1.7l-.1-.1-.3 0-.4-.1-.5-.2-.4 .1-.5 .2-.4 .4-.4 .5-.2 .7-.2 .6 0 .8 0 .8 .1 .7 0 .6 .1 .6 0 .5 0 .5-.1 .6-.1 .5-.2 .5-.2 .5-.5 .2-.5 .1-.6 0-.4 .1 0 .2 .3 .4 .5 .5 .6 .2 .5 0 .5-.2 .6-.5 .2-.3-.1 0-.3 .3-.6 .5-.4 .4 0 .3 .3 .1 .5-.1 .6 0 .6 0 .6 0 .7 0 .7 0 .7 0 .6 0 .7 0 .7 0 .8 0 .7 0 .8 0 .7 0 .7 0 .7 0 .6 0 .6 0 .5-.1 .6 0 .5 0 .2 0 0 0-.2 0-.5 0-.5-.2-.3-.3-.3-.6-.2-.7-.3-.7-.3-.7-.4-.6-.4-.5-.5-.5-.3-.5-.4-.5-.3-.4-.1-.4 0-.5 .2-.4 .4-.5 .1-.3-.3-.2-.5-.1-.9 0-.7-.2-.6-.3-.5-.6-.3-.6-.4-.5-.4-.3-.5 0-.6 .2-.6 0-.7-.1-.7-.2-.8-.3-.5-.2-.2 0 .2 .2 .5 .4 .4 .2 .2 .2 .2 .1 M18.3 -5.4l-.1-.1-.3-.3-.4-.4-.4-.6-.5-.6-.5-.6-.4-.7-.4-.7-.5-.5-.6-.4-.7-.2-.9 0-.7-.1-.6-.1-.6-.2-.5-.2-.5-.2-.5-.1-.5-.2-.5-.2-.6-.2-.7-.1-.7-.2-.8-.2-.8-.1-.6-.1-.6-.1-.5 0-.6 0-.5-.1-.6 0-.6 0-.7 0-.6-.1-.7-.1-.6-.1-.7-.1-.7 .1-.7 .1-.7 .1-.5 .3-.4 .4-.2 .4-.1 .5 .1 .6 .3 .5 .4 .5 .6 .5 .6 .3 .7 .2 .8 0 .8-.1 .5-.1 .1-.1-.2 0-.5 0-.6-.1-.7-.1-.7-.1-.8-.1-.7 0-.6 .2-.5 .5-.4 .6-.4 .6-.4 .5-.4 .5-.5 .3-.5 .4-.5 .3-.6 .3-.7 .2-.6 .3-.5 .4-.6 .6-.5 .6-.5 .6-.6 .5-.6 .4-.6 .4-.7 .2-.7 0-.7-.1-.7-.4-.6-.1-.6 0-.5 .1-.4 .4-.4 .3-.5 .4-.5 .4-.4 .5-.3 .4-.1 .6 .2 .5 .3 .6 .3 .5 .2 .3 .1 .1" fill="none" stroke="#2479cb" stroke-width="1.3" stroke-linejoin="round" stroke-linecap="round"/><path d="M-1.1 -3.3L-3 -1.2L-3.9 -2.9zM12.8 .9L10.7 2.7L10 .9zM-12 3.7L-11.3 6.4L-13.2 6.3zM3.1 5.5L5.8 4.8L5.6 6.7z" fill="#2479cb"/></g><g id="o0"><path d="M-2.7 -7l.1-.2 .1-.3 .1-.4 .2-.5 .1-.6 .1-.6 .1-.7 0-.8-.1-.5-.3-.3-.5 0-.7 .2-.7 .1-.7-.1-.7-.1-.8-.3-.8-.1-.7-.1-.7 .1-.7 .3-.7 .2-.6 .3-.6 .3-.6 .3-.6 .4-.4 .6-.4 .6-.4 .7-.4 .6-.5 .5-.6 .3-.7 .2-.6 .1-.7 0-.6 0-.6-.2-.5 .1-.4 .1-.4 .3-.3 .4-.2 .5-.3 .5-.1 .7-.2 .7 0 .7 0 .7 .2 .7 .4 .7 .1 .7-.1 .5-.3 .4-.5 .3-.3 .4 .1 .4 .3 .4 .6 .5 .5 .5 .4 .6 .4 .6 .3 .7 .3 .7 .3 .6 .3 .7 .3 .6 .5 .5 .5 .4 .6 .2 .7 .1 .7 0 .6 0 .6-.1 .5-.2 .5-.3 .5-.3 .6-.5 .5-.6 .3-.5 0-.4-.2-.4-.6-.4-.3-.2-.3-.2-.1-.1 M-3.8 -.7l.2 .1 .3 .1 .5 .3 .7 .3 .6 .5 .4 .5 .4 .6 .3 .7 .1 .6-.1 .5-.4 .4-.5 .2-.6 .2-.6 .1-.7 .1-.6 0-.7-.1-.5-.3-.5-.6-.5-.7-.5-.6-.4-.5-.4-.4-.5-.3-.4-.3-.5-.3-.4-.3-.5-.3-.5-.2-.7-.1-.8 0-.8 .1-.8 0-.8-.2-.7-.3-.7-.5-.6-.2-.5 0-.4 .4-.2 .6 0 .6 .1 .4 .4 .2 .6 .2 .6 .3 .5 .4 .5 .5 .4 .7 .4 .7 .4 .6 .5 .6 .4 .5 .3 .6 .2 .6 0 .7-.1 .6-.1 .6 .1 .6 .1 .5 .2 .4 .4 .5 .4 .4 .6 .5 .8 .4 .7 .4 .7 .2 .8 .2 .8 0 .8 .1 .8 .1 .8 0 .9 .1 .8 0 .9-.1 .8-.1 .8-.2 .7-.1 .6 0 .6 .1 .6 .1 .3 .2 .3 .1 .1 0 M4.3 -2.2l.1 .1 .2 .3 .4 .3 .5 .6 .5 .4 .6 .3 .7 .3 .8 .1 .7 .1 .7-.1 .6-.1 .7-.3 .6-.1 .5-.1 .6 0 .5 .2 .5-.1 .4-.1 .4-.3 .4-.4 .4-.5 .4-.6 .4-.6 .3-.6 .4-.6 .4-.6 .4-.6 .4-.5 .1-.4-.1-.3-.4-.2-.8-.2-.7-.1-.7-.2-.7-.3-.6-.3-.6-.3-.3-.5-.2-.5-.1-.6-.1-.4-.3-.2-.4 0-.4 .3-.3 .4 0 .5 .1 .6 .4 .8 .1 .7-.2 .6-.4 .4-.7 .3-.6 .4-.5 .4-.3 .5-.2 .5-.4 .4-.4 .1-.5 0-.5-.1-.5-.3-.3-.4-.2-.5-.1-.6-.1-.5-.3-.5-.4-.4-.4-.4-.3-.4-.2-.5-.1-.6 .1-.7 .1-.6 .1-.7 .3-.6 .3-.7 .1-.3 .1 0 0 .4-.1 .6-.1 .7-.2 .7-.2 .8-.2 .7-.2 .6-.1 .4-.1 .2 M10.9 7.4l-.2 0-.3-.1-.4-.1-.6-.1-.6-.2-.5-.2-.5-.2-.4-.3-.4-.4-.4-.4-.4-.4-.3-.5-.1-.4 .2-.3 .6-.2 .8-.2 .9 0 .8 0 .7 .1 .8 .2 .7 .2 .8 .2 .7 .1 .8 .2 .7 .2 .8 .2 .7 .3 .7 .2 .7 .1 .7-.2 .6-.3 .7-.6 .3-.5 .1-.4-.3-.3-.5-.1-.4-.4-.2-.5-.1-.7 0-.8 .1-.8 0-.6 .1-.6 .1-.6 .3-.3 .3-.2 .5-.1 .7 .1 .4-.1 .2-.3 0-.6-.3-.7-.3-.7-.3-.7-.4-.6-.3-.6-.5-.5-.7-.3-.7-.1-.9 0-.7 .2-.6 .3-.5 .4-.4 .6-.4 .5-.4 .4-.5 .4-.5 .3-.4 .4-.5 .4-.3 .5-.4 .6-.5 .5-.5 .6-.6 .5-.7 .5-.7 .3-.7 .2-.7 0-.8-.2-.5-.1-.4-.1-.2 0 M-8.6 -9.4l.1-.1 .2-.3 .4-.3 .4-.4 .5-.4 .4-.4 .4-.4 .4-.4 .5-.3 .6-.3 .8-.2 .8-.2 .8-.2 .8-.1 .8-.1 .8 .1 .7 0 .6 .2 .6 .3 .6 .4 .3 .4 .1 .4-.1 .5-.4 .6-.3 .5-.4 .6-.3 .6-.3 .6-.4 .5-.5 .5-.5 .4-.6 .3-.5 .4-.4 .6-.4 .6-.3 .7-.4 .5-.6 .3-.7 .1-.8 0-.9-.1-.7-.1-.8-.1-.7-.1-.7-.1-.6-.2-.5-.3-.5-.3-.5-.3-.5-.4-.6-.3-.6-.5-.6-.3-.8-.4-.7-.3-.8-.3-.8-.2-.6-.1-.6 .1-.5 .1-.2 .2 .1 .3 .3 .3 .7 .3 .6 .2 .6 .1 .7 .1 .6 0 .7 0 .7 0 .7-.1 .8 0 .8-.1 .7-.1 .7-.1 .7-.2 .7-.1 .6-.2 .6-.1 .6 0 .5-.1 .3 0 .2-.1 M13.4 7.7l0-.2 0-.2-.1-.5 0-.6 0-.5 .2-.5 .4-.5 .5-.4 .4-.2 .5 0 .5 .2 .5 .5 .3 .5 .1 .5 0 .5-.2 .6-.3 .5-.2 .6-.2 .5-.3 .6-.3 .4-.5 .4-.6 .2-.7 .1-.7 .1-.8 .2-.8 .2-.8 .3-.8 .1-.8 .1-.8-.1-.7-.1-.8-.1-.7 .1-.8 .3-.8 .3-.7 .3-.6 .3-.6 .1-.5 .2-.5-.1-.6-.1-.6-.3-.6-.5-.4-.4-.1-.4 .2-.5 .4-.4 .5-.4 .4-.3 .6-.2 .5-.1 .5-.2 .5-.3 .4-.4 .3-.4 .4-.6 .3-.5 .2-.7 .2-.7 .1-.6-.2-.7-.4-.5-.6-.6-.5-.6-.3-.6-.3-.7 0-.7-.1-.7-.1-.8-.2-.7-.1-.8 0-.7 .1-.8 .2-.7 .4-.6 .4-.5 .5-.4 .5-.2 .6 0 .6-.1 .6-.1 .6-.1 .6-.1 .5-.1 .3-.1 .1 0" fill="none" stroke="#b8b8b8" stroke-width="1.1" stroke-linejoin="round" stroke-linecap="round"/><path d="M-13.1 3.9L-10.4 4.5L-11.5 6.1zM4.9 13.1L2.1 13.2L2.7 11.3zM3.7 -5.5L3.5 -8.3L5.4 -7.7z" fill="#b8b8b8"/></g><g id="o1"><path d="M11 2.1l.1 .1 .2 .2 .3 .3 .4 .4 .5 .4 .5 .4 .6 .5 .7 .5 .6 .2 .4-.1 .4-.3 .3-.6 .2-.6 .1-.7 .1-.7 0-.9 .1-.7 .1-.7 .1-.6 .2-.6 .3-.5 .3-.6 .3-.6 .4-.6 .1-.5 0-.6-.1-.4-.4-.5-.3-.4-.4-.5-.3-.5-.3-.5-.4-.4-.5-.2-.6-.1-.7 .1-.7 0-.7 0-.6 .1-.6-.1-.6 0-.7 0-.6-.1-.7-.1-.7-.1-.5-.3-.5-.2-.4-.4-.4-.4-.5-.3-.6-.4-.7-.4-.6-.2-.5 0-.4 .3-.3 .4-.3 .5-.2 .6-.2 .7-.2 .9 0 .8 0 .8 .1 .8 .3 .8 .3 .7 .3 .7 .5 .6 .4 .6 .5 .6 .4 .6 .3 .7 .3 .7 .3 .8 .3 .7 .2 .7 .1 .8 .2 .8 .1 .8 0 .8 0 .8 0 .7 .1 .4 0 .2 M.2 2.9l-.2 0-.2-.1-.4 0-.5-.1-.5-.3-.4-.4-.3-.5-.4-.8-.1-.6 .1-.5 .4-.4 .5-.2 .5-.2 .5 0 .5 .1 .5 .2 .4 0 .3-.3 .2-.5 .1-.7 0-.7-.2-.7-.3-.8-.4-.7-.4-.6-.4-.6-.4-.4-.3-.4-.5-.2-.6 0-.6 .1-.8 .4-.7 .3-.7 .2-.7 .2-.7 .2-.6-.1-.5-.2-.4-.4-.2-.7-.4-.5-.5-.6-.5-.5-.6-.5-.5-.2-.4 .1-.2 .3-.1 .6-.2 .6-.3 .6-.3 .6-.5 .5-.3 .6-.1 .7 0 .8 .1 .9 .2 .8 .1 .7 .1 .7 0 .7 .1 .6 .1 .6 .1 .6 .1 .5 .3 .5 .4 .6 .4 .6 .6 .6 .7 .6 .6 .4 .7 .4 .7 .2 .6 .3 .6 .3 .4 .4 .3 .4 .4 .3 .4 .2 .5 .2 .6 0 .7 .2 .6 .2 .6 .4 .6 .4 .5 .4 .3 .2 .2 .1 M-19.2 -.5l-.1-.1-.1-.3-.2-.5-.3-.7-.1-.7-.1-.6 0-.6 .2-.5 .1-.6 .2-.5 .2-.5 .2-.5 .4-.4 .5-.3 .6-.1 .8 0 .7 .1 .5 .4 .4 .5 .3 .7 .2 .7 0 .7-.2 .6-.3 .7-.4 .6-.5 .6-.5 .5-.6 .6-.6 .4-.6 .2-.6 .2-.7 .1-.6 .1-.6 .1-.5 .2-.5 .3-.2 .3 0 .4 .3 .4 .5 .4 .5 .5 .3 .6 .1 .6 0 .7 .1 .7 .3 .6 .4 .5 .5 .5 .5 .3 .5 0 .5-.2 .4-.4 .5-.4 .6-.3 .6-.3 .7-.2 .8-.1 .7-.1 .9 .1 .8 .1 .8 .1 .7 0 .7 0 .6-.1 .5-.2 .6-.3 .4-.3 .4-.4 .5-.3 .7-.3 .7-.3 .8-.1 .9-.1 .7 0 .8 .2 .7 .2 .7 .4 .6 .4 .6 .6 .5 .6 .4 .5 .3 .4 .1 .1 M-6.8 -.7l0-.2-.2-.2-.3-.4-.4-.5-.3-.4-.4-.5-.3-.4-.4-.4-.4-.2-.4 .1-.6 .2-.6 .5-.5 .6-.5 .5-.5 .7-.5 .6-.4 .6-.4 .6-.3 .6-.3 .6-.4 .6-.3 .7-.4 .7-.4 .7-.5 .6-.5 .3-.5 .2-.6-.1-.4-.2-.1-.3 .2-.5 .5-.6 .3-.7 .2-.6 .2-.7 0-.7-.1-.6-.2-.7-.2-.7-.4-.8-.4-.6-.4-.5-.5-.4-.5-.4-.5-.1-.4 .2-.3 .4-.3 .7-.1 .7 0 .6 .1 .6 .2 .5 .3 .5 .2 .6 .1 .5 .1 .6 .1 .6 0 .6 0 .7-.1 .6 .1 .6 .2 .6 .4 .5 .5 .6 .6 .3 .6 .3 .7 .1 .7 0 .7 0 .7 0 .8 .1 .8 .1 .7-.2 .5-.3 .3-.5 .1-.8 .2-.7 .4-.7 .4-.7 .4-.7 .4-.5 .3-.3 .1-.2 M9.6 -3.5l.2 .1 .3 .3 .5 .3 .6 .5 .6 .2 .6 0 .7-.2 .6-.5 .3-.4-.2-.3-.4-.2-.9-.1-.7 0-.5 .2-.4 .3-.3 .5-.3 .2-.5 0-.6-.2-.7-.5-.5-.6-.2-.6-.1-.7 .1-.8 .1-.7 .1-.6 .1-.6 .1-.5 .1-.6 .1-.6 .1-.5 0-.6-.1-.5-.4-.4-.5-.4-.7-.2-.7-.3-.7-.1-.6-.1-.5 0-.6 0-.6-.1-.6-.1-.6-.1-.5-.1-.6 0-.6 0-.6 .1-.5 .2-.6 .4-.5 .4-.5 .5-.7 .5-.7 .3-.7 .2-.9 .1-.8 .1-.7 .1-.6 .1-.6 0-.6 0-.6 0-.6-.1-.7-.2-.7 0-.7 .1-.7 .2-.8 .3-.7 .3-.6 .3-.6 .3-.5 .3-.3 .4-.1 .3 .2 .4 .4 .4 .4 .4 .4 .3 .4 .4 .5 .3 .4 .4 .4 .4 .4 .5 .3 .5 .3 .4 .2 .2 .1 .1 M14 6.9l-.1 0-.2-.1-.4-.1-.5-.2-.4-.3-.3-.3-.2-.5-.1-.5-.2-.5-.5-.5-.5-.3-.8-.4-.7-.4-.6-.4-.7-.5-.5-.5-.6-.4-.6-.2-.7-.1-.6 .1-.5 .1-.3 .3-.1 .4-.1 .5 0 .6-.1 .6-.1 .7-.1 .7 0 .7 .2 .7 .2 .7 .4 .6 .4 .6 .3 .7 .3 .5 .2 .6 .2 .6 .4 .5 .5 .5 .6 .5 .5 .3 .6 .1 .5-.1 .6-.4 .2-.2 0-.2-.4-.1-.5-.1-.7 .1-.7 .1-.7 .3-.8 .4-.8 .2-.7 .3-.7 .1-.8 .1-.6 .1-.7 .1-.7 .1-.6 0-.6 0-.6 0-.6-.1-.6-.1-.6-.2-.7-.2-.7-.3-.7-.4-.7-.3-.7-.3-.8-.3-.8-.3-.8-.2-.8-.1-.7 0-.7 0-.7 0-.7-.1-.8-.3-.7-.3-.6-.3-.4-.2-.2-.1" fill="none" stroke="#b8b8b8" stroke-width="1.1" stroke-linejoin="round" stroke-linecap="round"/><path d="M6.8 9.7L5.8 7.1L7.7 7.1zM.8 10.5L-1.9 9.8L-.8 8.2zM3 8L.6 6.5L2.1 5.3z" fill="#b8b8b8"/></g></defs><use href="#g0" transform="translate(91.7 105.4)"/>
<ellipse cx="91.7" cy="105.4" rx="25.5" ry="15.8" fill="none" stroke="#333333" stroke-width="1.2"/>
<use href="#g1" transform="translate(144.4 108)"/>
<ellipse cx="144.4" cy="108" rx="25.5" ry="15.8" fill="none" stroke="#333333" stroke-width="1.2"/>
<use href="#g2" transform="translate(61.1 132.5)"/>
<ellipse cx="61.1" cy="132.5" rx="25.5" ry="15.8" fill="none" stroke="#333333" stroke-width="1.2"/>
<use href="#b0" transform="translate(114.7 135.6)"/>
<ellipse cx="114.7" cy="135.6" rx="25.5" ry="15.8" fill="none" stroke="#333333" stroke-width="1.2"/>
<use href="#g3" transform="translate(167.8 138.6)"/>
<ellipse cx="167.8" cy="138.6" rx="25.5" ry="15.8" fill="none" stroke="#333333" stroke-width="1.2"/>
<use href="#g0" transform="translate(82.1 162.8) scale(-1 -1)"/>
<ellipse cx="82.1" cy="162.8" rx="25.5" ry="15.8" fill="none" stroke="#333333" stroke-width="1.2"/>
<use href="#g1" transform="translate(135.5 166.5) scale(-1 1)"/>
<ellipse cx="135.5" cy="166.5" rx="25.5" ry="15.8" fill="none" stroke="#333333" stroke-width="1.2"/>
<use href="#g3" transform="translate(321.5 105.2)"/>
<use href="#g0" transform="translate(374.2 107.8) scale(-1 -1)"/>
<use href="#g1" transform="translate(290.9 132.3) scale(-1 1)"/>
<use href="#g2" transform="translate(397.6 138.4) scale(1 -1)"/>
<use href="#g3" transform="translate(311.9 162.6) scale(-1 -1)"/>
<use href="#g0" transform="translate(365.3 166.3)"/>
<path d="M360 135l.2 .1 .3 .3 .5 .3 .7 .5 .6 .5 .5 .5 .4 .6 .4 .6 .3 .7 .3 .7 .2 .7 .1 .7 .2 .6 .5 .3 .6 .2 .8-.1 .7-.2 .5-.3 .3-.4 .1-.5 .2-.5 .2-.5 .2-.5 .2-.5 .3-.5 .3-.4 .3-.5 .3-.4 .3-.5 .3-.5 .2-.6 .2-.6 .1-.6 0-.6-.2-.6-.2-.6-.3-.6-.4-.5-.4-.4-.4-.4-.2-.4 .1-.6 .3-.6 .5-.7 .5-.6 .4-.6 .4-.6 .4-.6 .2-.3 .1 .1-.1 .3-.2 .6 0 .6 .2 .4 .3 .3 .6 .2 .3 .3 .1 .5 0 .7-.3 .8-.4 .7-.5 .4-.6 .3-.6 .1-.7 0-.6 .1-.6 .1-.6 .1-.6 0-.7-.1-.7-.1-.8-.1-.7-.3-.6-.3-.4-.4-.3-.5-.2-.3-.2-.3-.1-.1 M357.5 139.6l-.1-.1-.1-.3-.1-.4-.2-.5-.3-.4-.5-.3-.6-.3-.7-.1-.8-.1-.7 0-.8 .1-.8 .1-.8 .2-.7 .2-.6 .3-.7 .3-.6 .2-.6 .2-.6 .1-.6 0-.5-.1-.3-.2-.2-.5-.1-.6-.2-.5-.3-.6-.5-.5-.5-.6-.5-.5-.5-.6-.5-.5-.4-.6-.3-.6-.3-.7-.1-.8-.1-.9 .1-.6 .3-.6 .5-.3 .6-.2 .5 0 .4 .1 .3 .3 .2 .5 .3 .4 .4 .2 .4 .1 .6 0 .5 .1 .5 .2 .4 .4 .3 .5 .4 .2 .5 .1 .4-.1 .5-.3 .6-.4 .6-.4 .6-.5 .7-.6 .6-.4 .6-.5 .5-.4 .4-.3 .2-.3 0-.4-.2-.4-.3-.4-.2-.4-.1-.5 .2-.5 .3-.5 .4-.4 .4-.3 .5-.2 .6 0 .5 .1 .5 .1 .5 .1 .5 .3 .3 .1 .2 .1 .2 .1 M322.3 138.1l-.2 .1-.4 .2-.5 .3-.7 .3-.6 .2-.6-.1-.6-.4-.5-.5-.5-.3-.5 0-.4 .3-.5 .5-.3 .6-.3 .7-.2 .6-.1 .7-.3 .5-.3 .5-.4 .3-.5 .2-.3 0-.1-.2 .2-.4 .3-.7 .5-.4 .4-.3 .5-.1 .5 .1 .5 .1 .5 .2 .5 .2 .5 .3 .4 .3 .5 .3 .5 .3 .5 .4 .5 .4 .5 .6 .5 .6 .4 .7 .5 .6 .6 .4 .6 .3 .6 .1 .5 0 .5-.1 .2-.3 .2-.5 .1-.5 0-.6 0-.6-.2-.7 0-.6 .1-.5 .3-.4 .5-.4 .3-.3 .2-.5 .1-.5-.1-.5 0-.5-.1-.5-.1-.5-.1-.5-.1-.6 .1-.5 0-.5 .2-.5 .2-.6 .3-.6 .4-.7 .5-.7 .5-.7 .5-.6 .6-.7 .5-.6 .4-.3 .4-.1 .3 .3 .2 .6 .2 .4 .1 .3 .1 .1 M334.9 147.8l0-.2 .1-.4 0-.7 .1-.8 .1-.8 .1-.7 .2-.6 .3-.5 .3-.5 .3-.5 .3-.5 .3-.4 .3-.5 .1-.6 .1-.6 0-.7-.1-.7-.2-.7-.2-.8-.3-.7-.4-.5-.4-.2-.5 .1-.6 .3-.5 .3-.5 .5-.5 .4-.5 .6-.4 .5-.5 .4-.4 .4-.4 .4-.5 .5-.5 .4-.7 .5-.7 .5-.4 .6-.1 .5 .1 .6 .4 .6 .5 .3 .6 .2 .6-.1 .7-.3 .7-.1 .7 0 .6 .2 .5 .3 .6 .3 .6 .4 .6 .4 .7 .4 .5 .4 .4 .5 .3 .6 .1 .7 .2 .5 .3 .5 .5 .4 .6 .3 .7 .2 .7 .1 .8 .1 .8-.1 .7-.1 .8-.3 .6-.3 .6-.5 .6-.4 .6-.5 .5-.6 .4-.5 .3-.4 .3-.3 .1-.2 M341.1 124.2l-.1 .1-.3 .3-.4 .3-.5 .5-.5 .3-.5 .1-.5-.1-.5-.3-.4-.3-.4-.4-.3-.4-.4-.4-.3-.3-.4-.1-.5 .2-.4 .3-.5 .2-.5 .1-.5 0-.5-.3-.6-.2-.6-.2-.6-.2-.7-.3-.7-.1-.7-.1-.6 0-.5 0-.6 0-.5 0-.5-.2-.5-.2-.5-.1-.5-.1-.6 0-.6 .1-.5 .3-.4 .4-.3 .6-.2 .7-.1 .7-.1 .7 .1 .6 .1 .6 .3 .6 .3 .5 .4 .5 .5 .5 .2 .4-.1 .4-.4 .2-.6 .2-.6 .3-.3 .4-.2 .5-.1 .6-.2 .4-.4 .3-.6 .1-.7 .1-.5-.2-.5-.3-.3-.6-.2-.7-.1-.6-.2-.6-.3-.6-.2-.5-.2-.5-.3-.6-.3-.5-.4-.6-.1-.6-.1-.7 .2-.7 .2-.7 .4-.4 .3-.2 .5 .2 .4 .4 .4 .4 .2 .2 .1 .1 M352.9 143.8l.1 .1 .3 .2 .3 .3 .5 .4 .5 .2 .4-.2 .5-.4 .4-.7 .5-.4 .6-.1 .7 .2 .7 .4 .7 .4 .8 .3 .7 .3 .8 .2 .6 .3 .4 .4 .3 .5 .1 .6 .2 .5 .4 .4 .6 .4 .7 .3 .6 .1 .6 .1 .5-.1 .5-.1 .5-.3 .3-.3 .3-.4 .3-.4 .3-.4 .5-.3 .5-.2 .6-.2 .6-.1 .6 .1 .6 .2 .7 .3 .4 .4 .2 .5 .1 .6-.2 .7-.2 .5-.4 .2-.5-.1-.6-.3-.6-.4-.5-.4-.4-.5-.4-.6-.2-.6-.1-.5 .1-.5 .2-.5 .2-.6 .2-.6 .1-.7 .1-.8 0-.8 .1-.6-.1-.7 0-.5-.1-.6 0-.6 0-.5 0-.5-.2-.5-.2-.5-.3-.4-.5-.4-.4-.4-.5-.4-.4-.4-.5-.3-.4-.3-.2-.2-.1-.1 M358.6 130.3l0 .1-.1 .3-.2 .4-.2 .6-.3 .6-.5 .5-.5 .5-.7 .5-.6 .3-.6-.1-.6-.3-.6-.6-.2-.5 0-.5 .3-.5 .5-.4 .5-.5 .3-.5 .2-.7 0-.7 .2-.6 .2-.5 .5-.3 .5-.3 .6-.2 .6-.2 .7-.1 .7 0 .7 0 .7 .1 .7 .1 .7 .2 .6 .1 .4-.2 .4-.3 .3-.5 .4-.5 .6-.3 .7-.3 .7-.2 .6 0 .4 .2 .2 .4-.1 .7 0 .7-.1 .7 0 .7-.1 .7-.2 .7-.3 .6-.4 .6-.6 .4-.5 .5-.6 .3-.5 .4-.6 .3-.3 .3 0 .4 .3 .4 .6 .4 .6 .5 .6 .5 .6 .5 .6 .5 .6 .4 .6 .3 .5 .2 .5 .1 .5 0 .5-.2 .5-.4 .5-.5 .3-.4 .3-.3 .1-.1 M346.4 117.4l.1 .1 .3 .1 .4 .2 .6 .2 .4 .3 .3 .4 .2 .5 0 .7-.2 .5-.3 .3-.5 .2-.7 .1-.7 0-.8 0-.7 0-.8 0-.8-.1-.8-.2-.7-.2-.7-.4-.6-.1-.6 .1-.5 .3-.5 .5-.4 .3-.2 0-.2-.2-.1-.5 .1-.5 .3-.4 .4-.4 .6-.3 .6-.3 .6-.1 .6 0 .6 .1 .5 .3 .3 .4 .1 .5 0 .6 0 .7 0 .6 0 .6 0 .6 0 .5-.1 .5-.2 .5-.2 .5-.2 .3-.1 .2-.1 .1 M334.5 153.2l.1 0 .3 .1 .4 .1 .5 .2 .6 .1 .6 0 .6-.1 .6-.2 .7-.2 .7 0 .7 0 .7 0 .6 .1 .7 .2 .6 .2 .5 .2 .6 .2 .6 .1 .6 0 .7 0 .4-.1 .1 0-.3 0-.5 0-.4 .1-.3 .2-.2 .3-.2 .5-.2 .4-.3 .3-.4 .3-.5 .2-.6 0-.6 .1-.7-.1-.7-.1-.5 0-.4 .4-.1 .5 .1 .8 0 .8 0 .7-.1 .8-.1 .8-.1 .5-.2 .1-.2-.3-.3-.6-.2-.5-.1-.3-.1-.2 M377.8 126l.1-.1 .3-.2 .5-.2 .6-.3 .6-.2 .5-.3 .6-.1 .6-.1 .2-.1-.1 .2-.4 .2-.7 .3-.7 .4-.7 .3-.7 .4-.7 .4-.6 .5-.5 .4-.5 .4-.3 .5-.4 .4-.4 .5-.5 .5-.5 .5-.5 .4-.6 .3-.7 .3-.7 .3-.7 0-.6-.3-.6-.4-.5-.7-.3-.7-.2-.7 .1-.6 .2-.6 .2-.7 0-.6-.2-.6-.2-.5-.4-.4-.4-.2-.5 0-.6 .1-.4 .2-.3 0-.2 .1 M348.6 112.3l0-.2-.2-.2-.1-.4-.2-.5-.2-.5-.1-.5-.1-.5 0-.5 0-.3-.1 .1 0 .4 0 .7-.1 .7-.3 .6-.4 .7-.6 .6-.3 .6 0 .6 .3 .5 .5 .5 .6 .5 .5 .3 .6 .3 .7 .3 .6 .2 .5 .2 .6 .3 .5 .2 .5 .3 .6 .4 .6 .5 .5 .6 .4 .5 .2 .6 0 .6-.3 .6-.3 .5-.4 .2-.6 .1-.6-.1-.6 0-.6 .3-.6 .4-.6 .7-.4 .4-.3 .3-.1 .2 M348 102.1l0 0 0 0 0 0 M385 123.3l.2 0 .4-.2 .6-.2 .8-.2 .8-.3 .8-.2 .8-.2 .9-.2 .6-.2 .4-.1 .2 0 M357.2 150.1l-.2-.1-.4 0-.6-.1-.7-.2-.8 0-.7 .2-.6 .2-.7 .4-.6 .3-.7 .2-.6 .2-.7 .1-.7 0-.6-.2-.6-.3-.6-.4-.6-.4-.6-.5-.7-.6-.6-.5-.6-.5-.6-.3-.6-.2-.6-.1-.5-.2-.3-.3-.2-.4-.1-.6-.1-.6 0-.6 0-.5 .1-.5 .1-.6 .1-.6 .2-.8 .1-.8 .3-.4 .4-.2 .6 .1 .7 .4 .7 .3 .6 .4 .6 .4 .5 .3 .3 .3 .3 .1 .1 .1 M384.1 153l-.2 0-.4-.2-.6-.2-.8-.2-.8-.3-.7-.2-.6-.3-.6-.2-.6-.3-.7-.2-.6-.3-.6-.2-.7-.2-.5-.1-.6-.1-.5 0-.5-.1-.5-.2-.5-.3-.4-.4-.3-.5-.1-.5 0-.6 .1-.6 0-.7-.1-.6-.2-.6-.3-.6-.4-.6-.4-.5-.5-.6-.5-.5-.6-.5-.5-.4-.6-.3-.6-.3-.6-.2-.6-.1-.6-.1-.6-.1-.6 0-.6 .2-.5 .3-.4 .5-.6 .4-.5 .5-.6 .5-.7 .5-.5 .4-.3 .3-.1 .1 M386.1 153.7l-.1 0-.4 0-.6-.1-.7-.1-.7-.2-.7-.1-.5-.2-.5-.3-.6-.3-.6-.3-.6-.4-.6-.4-.7-.3-.8-.3-.7-.2-.8-.2-.5-.2-.4-.4-.1-.4 .1-.5 .2-.3 .3 0 .3 .1 .5 .5 .5 .4 .5 .5 .5 .5 .6 .5 .5 .4 .7 .4 .6 .4 .7 .3 .6 .3 .5 .3 .5 .3 .4 .3 .5 .2 .7 .2 .7 .1 .8 0 .6 .1 .1 .1-.1 .2-.5 .2-.5 0-.5-.1-.6-.3-.6-.5-.4-.3-.3-.3-.1-.1 M314.3 145.5l-.2 0-.3 0-.4 0-.7 0-.6-.1-.6-.1-.7 0-.7-.2-.3-.2 0-.3 .3-.4 .7-.6 .6-.2 .7 0 .6 .3 .5 .6 .6 .3 .7 .1 .7 0 .7-.3 .8-.1 .7 .1 .8 .2 .7 .5 .7 .3 .7 .3 .7 .3 .6 .1 .6 .2 .6 .2 .6 .3 .5 .3 .6 .3 .5 .3 .6 .3 .6 .3 .6 .3 .6 .2 .6 .2 .5 .2 .6 .2 .5 .1 .5 0 .6 0 .4 .1 .2 0 .2 0" fill="none" stroke="#2479cb" stroke-width="1.4" stroke-linejoin="round" stroke-linecap="round"/><path d="M362.2 128.3L364.5 129.9L362.9 131zM359.9 124.8L357.1 124.5L358 122.8zM332.3 133.1L330.5 131L332.3 130.3zM348.4 144.2L347.6 146.9L346.1 145.7zM319.7 125.8L317.1 124.7L318.4 123.3z" fill="#2479cb"/>
<ellipse cx="321.5" cy="105.2" rx="25.5" ry="15.8" fill="none" stroke="#333333" stroke-width="1.2"/>
<ellipse cx="374.2" cy="107.8" rx="25.5" ry="15.8" fill="none" stroke="#333333" stroke-width="1.2"/>
<ellipse cx="290.9" cy="132.3" rx="25.5" ry="15.8" fill="none" stroke="#333333" stroke-width="1.2"/>
<ellipse cx="344.5" cy="135.4" rx="25.5" ry="15.8" fill="none" stroke="#e4834f" stroke-width="1.2"/>
<ellipse cx="397.6" cy="138.4" rx="25.5" ry="15.8" fill="none" stroke="#333333" stroke-width="1.2"/>
<ellipse cx="311.9" cy="162.6" rx="25.5" ry="15.8" fill="none" stroke="#333333" stroke-width="1.2"/>
<ellipse cx="365.3" cy="166.3" rx="25.5" ry="15.8" fill="none" stroke="#333333" stroke-width="1.2"/>
<rect x="-2.1" y="-.9" width="4.2" height="1.8" fill="#a48a58" transform="translate(369.2 139.3) rotate(22)"/><rect x="-2.1" y="-.9" width="4.2" height="1.8" fill="#a48a58" transform="translate(348 151) rotate(85)"/><rect x="-2.1" y="-.9" width="4.2" height="1.8" fill="#a48a58" transform="translate(324.1 144.9) rotate(130)"/><rect x="-2.1" y="-.9" width="4.2" height="1.8" fill="#a48a58" transform="translate(320.4 130.2) rotate(-151)"/><rect x="-2.1" y="-.9" width="4.2" height="1.8" fill="#a48a58" transform="translate(335.6 120.6) rotate(-103)"/><rect x="-2.1" y="-.9" width="4.2" height="1.8" fill="#a48a58" transform="translate(365.5 126.4) rotate(-48)"/>
<use href="#o0" transform="translate(548 105.8)"/>
<use href="#g2" transform="translate(600.7 108.4) scale(1 -1)"/>
<use href="#g3" transform="translate(517.4 132.9) scale(-1 -1)"/>
<use href="#o1" transform="translate(571 136) scale(-1 1)"/>
<use href="#o0" transform="translate(624.1 139)"/>
<use href="#g2" transform="translate(538.4 163.2)"/>
<use href="#g3" transform="translate(591.8 166.9)"/>
<path d="M537 90l-.4-1.1-.3-1.2-.5-1.1-1.2-.3-1.2 .1-1 .5-1.2 .4-1.1-.2-.7-1-.7-1-.9-.8-1.2 .2-.9 .7-1.1 .5-1.2-.1-.6-1-.9-.8-1-.7-1.2 .3-.8 .8-.7 1-1 .5-1.1-.6-.5-1 .6-1.1 .8-.8 .5-1.1 0-1.2-.8-.9-1.2 0-1.2-.2 .1-1.2 .7-1 .9-.8 1.1-.4 M546 88l1.1-.6 1.1-.2 1.2-.3 1.2 .3 1.2 0 .5-1-.9-.8-1.1-.4-1.2-.1-.9-.8 .1-1.2 1.1-.6 1.1-.4 1.1-.6 .3-1.1 .1-1.2 0-1.2 1.1-.4 1.2 0 .6 1.1 .7 .9 1 .6 1.2 .2 1.2-.3 1.1-.3 1 .7 .3 1.2 .2 1.2 M560 92l.9-.8 1.1-.2 .1 1.2-.7 1-.6 1.1-.2 1.2 1.2 .2 1.1-.6 1-.6 1.2-.2 1.2 .1 1.2 .2 .8 .9 1.1 .5 1.2-.2 1-.6 .7-1-.2-1.2-.6-1.1-.5-1 .5-1.2 .7-.9 1.2-.3 1.1 .2 1 .7 1.2 .3 1.2-.2 1.1-.2 1.2 .2 .8 .9-.1 1.2 .1 1.2 .6 1 1.1 .6 1.2 0 .5-1.1 .2-1.2-.2-1.2-.4-1.1 .8-.9 1.2-.3 1.2 .1 1.2 .1 .6-1-.1-1.2-.7-1-.3-1.1 .8-1 1.1 .3 .5 1.1 .7 1 1 .7 M523 100l-.5 1.1-.2 1.2-.7 1-1 .6-1.1-.3-1.2-.2-1.2 .3-.7 1-.2 1.2-.2 1.2 .4 1.1 .1 1.2-.3 1.2-1 .6-1.1-.4-1.1-.6-.7-.9-.9-.9-1-.6-1.2-.1-.9 .8 .1 1.2-.2 1.2-.8 .8-1.2 .1-1.1-.6-.3-1.2 M628 124l.5-1.1 1.2 0 1.1 .3 1.2 .3 1.2-.1 .4-1.1-.5-1.1-.8-.8-1.2 .1-1.2 .2-1.1 .3-1.2 .2-.8-.8 .3-1.2 .7-1 1-.5 1.2-.2 1-.6 .4-1.2-.3-1.2-.5-1.1-.2-1.1-.1-1.2 .3-1.2 .9-.9 1.1-.4 1.2 .1 1.1 .2 1.2-.2 .2-1.2-.3-1.1-1.2-.2-1.2-.2-1.1-.5 .2-1.2 .9-.8 1-.6 .9-.8-.1-1.1-.4-1.2 M641 126l1-.7 .4-1.1-.4-1.2-.3-1.1 0-1.2 .6-1.1 1-.6 1.2 .3 .5 1 .6 1 1.1 .6 1.2 .3 1.1-.4 .6-1.1 .3-1.1 .4-1.1 .6-1.1 1.2 .2 .9 .7 .9 .8 .6 1.1 1.1 .4 1-.6 .2-1.2 0-1.2 .2-1.2 .3-1.1 .8-.9 1-.6 .9 .8 .7 1 .8 .9 1.2-.2 .7-.9-.3-1.2-.8-.9-1.1-.5-1.1-.4-.8-.9 .1-1.2 .6-1 1-.7 .9-.9-.3-1.1 M650 140l.2 1.2 .9 .8 1 .6 1.2-.4 .5-1.1 .2-1.1 .9-.9 1.1-.3 1.1 .4 .3 1.2 0 1.2-.3 1.2 .3 1.1 .9 .8 1.2-.1 .8-.9 .6-1.1 .4-1.1 .7-.9 1.1-.5 1.1 .6 .3 1.1-.6 1-.4 1.1-.3 1.2 0 1.2 .7 1 M633 156l-.9 .8-1 .7-.8 .8 0 1.2 .8 1 .8 .8 0 1.2-.8 .9-1.2 .4-1.1 .4-1.1-.4-1.1-.6-.7 1 1 .7 1.2 .2 1.2 .2 1.1 .4 1 .7 .8 .8" fill="none" stroke="#b8b8b8" stroke-width="1.2" stroke-linejoin="round" stroke-linecap="round"/><path d="M519 74.3L516.6 77.3L515.2 75zM562.1 84.8L560 81.5L562.6 81zM593.5 88.2L590 86.5L591.9 84.6zM503.5 108.3L506.8 110.3L504.7 112zM634.5 97.7L636.6 100.9L634 101.5zM662.3 104.5L662.5 108.4L659.9 107.6zM664.5 149.3L662.2 146.3L664.7 145.5zM633.9 168.6L630.2 167.3L632 165.2z" fill="#b8b8b8"/>
<path d="M563 132l.2 .1 .3 .1 .6 .2 .7 .3 .6 .2 .6 .2 .6 0 .5 .1 .6 0 .6-.1 .6 0 .7-.1 .7 0 .6 .1 .6 .1 .5 .3 .6 .2 .6 .2 .6 .1 .6 .1 .5 .2 .4 .4 .4 .4 .2 .7 .1 .6-.1 .5-.2 .6-.3 .6-.4 .4-.5 .3-.6 .2-.8 .1-.6 .1-.5 .2-.5 .2-.4 .3-.4 .1-.5 0-.6-.1-.6-.3-.6-.3-.6-.3-.6-.3-.6-.3-.6-.3-.5-.3-.5-.2-.5-.1-.6-.1-.6 0-.7 .2-.8 .2-.7 .2-.6 .2-.6 .3-.6 .2-.6 .2-.6 .1-.8 .1-.8-.1-.5 .2-.2 .3 0 .6 .3 .7 .2 .6 .2 .3 0 .2 M579 140l.1-.1 .3-.1 .4-.1 .6-.2 .4-.3 .4-.3 .2-.4 .2-.5 0-.5 0-.5-.1-.6-.2-.6-.2-.6-.2-.6-.2-.6-.3-.5-.1-.6-.1-.6-.1-.5 0-.5 .2-.5 .2-.3 .5-.3 .5-.2 .6-.2 .6 0 .6-.1 .7 .1 .6 0 .7-.1 .6-.1 .6-.2 .4-.2 .2-.3-.1-.3-.4-.3-.2-.4-.1-.4 .1-.3 .2-.5 .2-.3 .4-.1 .4-.1 .6 0 .5 .1 .6 0 .5 .1 .6 .1 .7 0 .6 .1 .7 0 .6 0 .7 .1 .5 .1 .5 .3 .5 .2 .5 .2 .4 0 .5-.2 .5-.3 .5-.3 .4-.2 .5-.2 .4-.3 .4-.1 .5-.1 .5-.1 .4 .1 .6-.1 .6 0 .6 0 .7 0 .7 0 .6 .2 .6 .3 .5 .4 .4 .3 .3 .2 .1 .1 M557 142l-.1-.1-.3-.1-.4-.1-.6-.2-.6-.2-.7-.1-.7-.1-.7 0-.7 0-.7 0-.6-.1-.5 0-.5-.2-.6-.2-.6-.3-.6-.4-.5-.2-.4 .1-.3 .4-.2 .6-.1 .7-.1 .7-.1 .7-.1 .7 .1 .7 .2 .6 .4 .6 .4 .5 .5 .3 .6 .3 .6 .2 .7 .1 .7 .1 .7 0 .6 .1 .6 0 .6-.1 .6-.1 .6-.3 .7-.4 .6-.2 .7-.1 .6 0 .7 .1 .6 .1 .6-.1 .4-.2 .4-.2 .4-.4 .4-.4 .4-.6 .4-.6 .4-.6 .2-.5 .2-.5 .2-.6 .2-.4 .3-.3 .4-.2 .5-.1 .5 0 .5-.1 .6 0 .7 .1 .5 .2 .4 .4 .2 .5 .2 .8 .1 .6 .1 .4 0 .2 M585 130l.2 0 .3 0 .5 0 .7 0 .6 0 .6 0 .6 0 .5 0 .5 .1 .4 .2 .4 .3 .3 .4 .3 .4 .1 .5 .1 .7-.1 .7 .2 .4 .2 .3 .5 .1 .6-.2 .5-.1 .6 0 .6 0 .6 .1 .5 .1 .7 .2 .6 .2 .7 .3 .5 .4 .3 .4 .2 .6 0 .7 .1 .5 .3 .5 .4 .4 .6 .3 .6 .4 .5 .4 .5 .5 .4 .5 .4 .6 .4 .5 .2 .5 .3 .5 .1 .6 .1 .6 .1 .6 0 .6 .1 .4 .3 .2 .5-.2 .6-.4 .6-.3 .7-.2 .6 0 .7 0 .6-.1 .4-.2 .3-.3 .2-.5 .2-.4 .4-.3 .5-.2 .5-.1 .6-.2 .5-.3 .5-.4 .4-.4 .4-.4 .2-.2 .1-.1 M571 146l.1 .1 .1 .3 .2 .4 .2 .6 .1 .5-.1 .5-.3 .6-.4 .5-.5 .5-.5 .5-.6 .5-.6 .5-.3 .4-.1 .2 .2 .1 .5 .1 .5-.1 .5-.2 .6-.2 .6-.4 .6-.3 .6-.1 .6-.1 .6 0 .6-.1 .7-.1 .6-.2 .8-.2 .6-.4 .5-.4 .5-.6 .5-.6 .3-.6 .2-.6 .2-.5 .1-.4 .2-.5 .2-.4 .3-.5 .3-.4 .1-.4-.2-.4-.4-.3-.8-.2-.7-.3-.7-.3-.7-.4-.6-.4-.5-.5-.3-.5-.2-.5 .1-.7-.1-.5-.2-.4-.3-.4-.5-.2-.3-.1-.3 .2-.2 .3-.2 .6 0 .6 .1 .5 .3 .5 .3 .5 .2 .5 .1 .5-.1 .4-.3 .4-.2 .4-.1 .2 0 .1 M573 126l.1 0 .3 .1 .4 .1 .5 .1 .5 0 .5-.1 .5-.2 .5-.3 .5-.3 .4-.3 .5-.3 .5-.3 .5-.2 .6-.1 .6 0 .7 .1 .5 0 .4-.2 .4-.3 .2-.5 .3-.2 .4 0 .4 .2 .6 .5 .5 .3 .5 0 .5-.1 .5-.4 .6-.2 .5 0 .6 .1 .6 .4 .6 .3 .5 .2 .6 .2 .5 .2 .6 .3 .5 .3 .5 .5 .5 .5 .4 .5 .5 .4 .4 .4 .4 .3 .4 .3 .4 .4 .3 .4 .4 .4 .3 .4 .2 .5 .1 .5 0 .5 0 .6-.1 .6 0 .6-.1 .7-.2 .6-.1 .7-.1 .7-.2 .7-.2 .6-.3 .7-.4 .6-.4 .7-.3 .6-.2 .6-.1 .6 0 .6-.2 .5-.2 .4-.4 .4-.4 .3-.4 .2-.2 .1-.1 .1 M559 106l-.1 .1-.2 .2-.4 .3-.4 .3-.4 .4-.3 .5-.2 .4-.2 .5-.2 .4-.3 .4-.3 .3-.4 .2-.3 .3-.1 .5 0 .6 .1 .8 0 .7 .1 .8-.1 .8 0 .7 .1 .6 .3 .3 .5 0 .7-.1 .7-.1 .6 .1 .5 .1 .5 .2 .3 .3 .2 .3 .1 .4-.1 .5 .2 .3 .3 .3 .5 0 .7 0 .6 .1 .4 .3 .4 .5 .2 .6 .2 .6 0 .6-.1 .5-.2 .4-.2 .4-.1 .5-.2 .4-.2 .5-.2 .5-.2 .5-.2 .4-.2 .5-.2 .5-.4 .5-.4 .5-.5 .6-.5 .5-.6 .4-.6 .3-.6 .3-.6 .2-.6 .2-.6 .1-.6 0-.5-.1-.4-.2-.3-.3-.2-.5-.1-.5-.1-.6-.2-.7-.1-.7-.1-.6 0-.4-.1-.2 M569 101l.1 0 .2 0 .4-.1 .5 0 .3 .2 .3 .3 .2 .5 .2 .7 0 .6-.2 .5-.2 .5-.4 .3-.3 .5-.3 .5-.1 .6 0 .7 0 .6 .1 .5 .3 .5 .3 .5 .3 .3 .4 .3 .5 .2 .6 .2 .5 .2 .5 .4 .4 .5 .4 .6 .1 .6 0 .6-.1 .5-.4 .5-.3 .6-.2 .6-.2 .7 0 .7-.1 .6 0 .6 .1 .5 .1 .5 .1 .4 .1 .5 .2 .4 .2 .4 .4 .4 .4 .3 .6 .3 .6 .2 .7 .1 .7 .1 .7-.1 .7-.1 .4-.3 .2-.3-.1-.4-.3-.5-.4-.3-.5-.2-.5 .1-.5 .2-.5 .1-.3-.2-.2-.3 0-.6-.1-.5 0-.6 0-.6 0-.6-.1-.7-.1-.7-.1-.7-.2-.8-.1-.6-.1-.4 0-.2 M577 116l-.1-.1-.2-.1-.3-.2-.3-.3-.4-.2-.5-.1-.4-.1-.5 .1-.6 0-.6 0-.7 .1-.7 0-.7 .1-.7 .2-.6 .2-.6 .4-.6 .1-.6 .1-.5-.2-.4-.3-.3-.3-.2-.4 0-.4 .1-.5 .3-.4 .3-.2 .4-.2 .5 0 .4-.1 .4-.2 .3-.4 .2-.5 .1-.4-.2-.3-.4-.2-.6-.1-.6 0-.7 0-.7 0-.7 .1-.6 .1-.7-.1-.7-.1-.6-.1-.6 0-.5 .1-.4 .3-.4 .5-.1 .5 0 .6 .2 .6 .5 .6 .4 .7 .4 .6 .4 .7 .4 .6 .5 .5 .6 .3 .6 .2 .6 0 .7 .1 .5 .1 .5 .1 .4 .1 .5 .2 .5 .3 .4 .3 .6 .5 .5 .4 .5 .5 .5 .6 .5 .5 .3 .4 .3 .3 .1 .2 M613 138l-.2 0-.3 .1-.6 .1-.7 .1-.7 0-.6-.2-.6-.3-.4-.5-.5-.3-.5-.2-.5 0-.4 .1-.4 .2-.3 .3-.3 .4-.2 .4 0 .4 .2 .2 .4 .2 .6 .1 .5 0 .5-.2 .5-.3 .5-.4 .4-.5 .3-.5 .3-.4 .1-.5 .2-.5 .3-.6 .2-.6 .3-.7 .4-.5 .5-.4 .6-.2 .7 .1 .7 0 .5 .2 .5 .2 .4 .2 .5 .3 .5 .4 .6 .3 .7 .4 .5 .4 .5 .4 .3 .4 .2 .4 .1 .4 0 .4-.2 .5-.2 .4-.1 .4 .1 .4 .2 .3 .4 .3 .3 .3 .3 .4 .2 .4 .1 .5 .1 .4 .1 .5 .1 .5 .1 .5 .1 .6-.1 .7-.1 .6-.1 .8-.3 .5-.5 .5-.5 .2-.8 .1-.5 .1-.4 .1-.2 0 M626 134l.1 .1 .2 .3 .2 .4 .3 .5 .3 .5 .2 .5 .1 .4 0 .5 .2 .3 .4 .3 .4 .1 .6 0 .6-.1 .4-.3 .4-.4 .4-.5 .2-.5 .2-.6 .2-.5 .1-.5 0-.6-.1-.5-.2-.6-.3-.7-.3-.5-.5-.6-.5-.5-.7-.4-.6-.3-.6-.3-.6 0-.5 0-.6 0-.6-.2-.6-.2-.6-.3-.3-.3 .1-.2 .4-.1 .7-.2 .6-.1 .6-.3 .6-.3 .5-.3 .4-.4 .1-.5-.1-.5-.3-.6-.2-.7-.2-.6-.1-.7-.1-.6-.2-.7-.3-.6-.3-.5-.5-.5-.5-.4-.6-.3-.7-.2-.7-.1-.7 .1-.5 .2-.3 .5-.2 .6-.4 .5-.3 .4-.5 .3-.5 .1-.4 .1-.3 0-.2 .1 M543 148l.1-.1 .2-.1 .4-.1 .4-.2 .2-.3 0-.3-.3-.4-.5-.5-.5-.3-.7-.3-.7-.1-.8 0-.7 0-.6 0-.5 0-.5 0-.5 0-.6 0-.7 .1-.6 .1-.4 .1 0 .2 .3 .1 .6 0 .6 .1 .6 .1 .5 .1 .5 0 .4-.1 .5-.2 .5-.4 .5-.5 .4-.5 .3-.5 .3-.4 .1-.5 .2-.5 0-.5 .1-.6-.1-.7 .1-.6 .1-.6 .2-.4 .4-.4 .3-.2 .3 0 .3 .2 .3 .3 .3 .1 .4-.2 .4-.4 .5-.6 .4-.5 .5-.3 .4-.1 .5 0 .5 0 .6-.1 .6-.1 .8-.2 .5 .1 .3 .3 .1 .6-.1 .8-.1 .7 0 .7 0 .6 0 .6-.1 .4-.3 .1-.4 0-.6-.3-.4-.1-.3-.2-.2 0 M567 158l0 .1 0 .3 .1 .4 0 .5 .1 .3 .2 .1 .2-.2 .2-.4 .2-.4 .1-.5 .1-.6 .1-.7-.1-.6-.1-.7-.2-.6-.3-.5-.4-.6-.4-.5-.5-.4-.5-.4-.6-.4-.6-.4-.6-.4-.6-.3-.4-.4-.3-.4 0-.5 .1-.5 0-.3-.1 0-.3 .2-.4 .4-.5 .4-.5 .2-.6 .2-.5 .2-.6 0-.6 0-.6-.1-.6-.2-.5-.3-.6-.3-.6-.4-.5-.5-.4-.5-.4-.5-.2-.6-.2-.6-.3-.5-.4-.3-.5-.2-.6-.1-.7 0-.6 0-.7 0-.8 0-.7 0-.8 0-.7 0-.7 .1-.7-.1-.7-.3-.5-.4-.5-.6-.4-.6-.4-.5-.3-.5-.3-.4-.2-.4-.2-.2 0-.1 M597 150l.1-.1 .1-.2 .3-.3 .3-.4 .3-.5 .3-.5 .2-.6 .1-.6 .1-.7-.1-.6-.2-.7-.4-.7-.4-.6-.5-.6-.5-.5-.7-.5-.5-.4-.4-.6-.3-.5-.2-.6-.2-.5-.3-.4-.4-.2-.4-.1-.5-.2-.5-.3-.6-.4-.6-.4-.6-.4-.6-.4-.6-.4-.6-.4-.5-.5-.4-.4-.3-.6-.3-.5-.2-.6-.3-.5-.2-.5-.2-.5-.1-.4 .1-.3 .3-.3 .4-.1 .3 .1 .1 .3 0 .5-.3 .7 0 .7 .1 .6 .3 .6 .4 .6 .4 .5 .4 .6 .2 .5 .2 .6 0 .5-.1 .4-.4 .3-.5 .2-.4 .3-.4 .3-.4 .4-.3 .4-.1 .4 0 .4 .1 .4 .3 .5 .2 .3 .1 .2 .1 .1" fill="none" stroke="#2479cb" stroke-width="1.7" stroke-linejoin="round" stroke-linecap="round"/><path d="M557.4 144.2L554.6 141L557.3 139.9zM608.4 128.7L604.3 127.5L606 125.1zM567.8 145.8L565.5 142.2L568.4 141.6zM614.9 138.5L613.1 142.4L611 140.2zM572.3 145.7L573 141.5L575.5 142.9zM589.5 144.8L592.2 141.5L593.7 144.1zM552.8 122.6L554.8 126.4L551.9 126.8z" fill="#2479cb"/>
<ellipse cx="548" cy="105.8" rx="25.5" ry="15.8" fill="none" stroke="#e4834f" stroke-width="1.1"/>
<rect x="-2.8" y="-1" width="5.5" height="2.0" fill="#1c5fae" transform="translate(560 119.8) rotate(72)"/><rect x="-2.1" y="-.9" width="4.2" height="1.8" fill="#a48a58" transform="translate(540.5 120.9) rotate(101)"/><rect x="-2.1" y="-.9" width="4.2" height="1.8" fill="#a48a58" transform="translate(527.6 115.3) rotate(130)"/><rect x="-2.1" y="-.9" width="4.2" height="1.8" fill="#a48a58" transform="translate(523.4 101.6) rotate(-156)"/><rect x="-2.1" y="-.9" width="4.2" height="1.8" fill="#a48a58" transform="translate(531.3 93.8) rotate(-118)"/><rect x="-2.1" y="-.9" width="4.2" height="1.8" fill="#a48a58" transform="translate(553.8 90.4) rotate(-82)"/><rect x="-2.1" y="-.9" width="4.2" height="1.8" fill="#a48a58" transform="translate(569.3 97.1) rotate(-47)"/><rect x="-2.1" y="-.9" width="4.2" height="1.8" fill="#a48a58" transform="translate(572.4 110.5) rotate(26)"/>
<ellipse cx="600.7" cy="108.4" rx="25.5" ry="15.8" fill="none" stroke="#333333" stroke-width="1.2"/>
<ellipse cx="517.4" cy="132.9" rx="25.5" ry="15.8" fill="none" stroke="#333333" stroke-width="1.2"/>
<ellipse cx="571" cy="136" rx="25.5" ry="15.8" fill="none" stroke="#e4834f" stroke-width="1.1"/>
<rect x="-2.8" y="-1" width="5.5" height="2.0" fill="#1c5fae" transform="translate(596.1 138.6) rotate(15)"/><rect x="-2.1" y="-.9" width="4.2" height="1.8" fill="#a48a58" transform="translate(587.1 148.2) rotate(63)"/><rect x="-2.1" y="-.9" width="4.2" height="1.8" fill="#a48a58" transform="translate(569.6 151.8) rotate(92)"/><rect x="-2.1" y="-.9" width="4.2" height="1.8" fill="#a48a58" transform="translate(549.9 144.9) rotate(132)"/><rect x="-2.1" y="-.9" width="4.2" height="1.8" fill="#a48a58" transform="translate(545.9 133.2) rotate(-164)"/><rect x="-2.1" y="-.9" width="4.2" height="1.8" fill="#a48a58" transform="translate(555 123.7) rotate(-117)"/><rect x="-2.1" y="-.9" width="4.2" height="1.8" fill="#a48a58" transform="translate(576.7 120.6) rotate(-82)"/><rect x="-2.1" y="-.9" width="4.2" height="1.8" fill="#a48a58" transform="translate(591.6 126.7) rotate(-50)"/>
<ellipse cx="624.1" cy="139" rx="25.5" ry="15.8" fill="none" stroke="#e4834f" stroke-width="1.1"/>
<rect x="-2.8" y="-1" width="5.5" height="2.0" fill="#1c5fae" transform="translate(640.8 150.9) rotate(62)"/><rect x="-2.1" y="-.9" width="4.2" height="1.8" fill="#a48a58" transform="translate(623.6 154.8) rotate(91)"/><rect x="-2.1" y="-.9" width="4.2" height="1.8" fill="#a48a58" transform="translate(602 146.9) rotate(137)"/><rect x="-2.1" y="-.9" width="4.2" height="1.8" fill="#a48a58" transform="translate(599.2 135.7) rotate(-161)"/><rect x="-2.1" y="-.9" width="4.2" height="1.8" fill="#a48a58" transform="translate(607.8 126.8) rotate(-117)"/><rect x="-2.1" y="-.9" width="4.2" height="1.8" fill="#a48a58" transform="translate(623.6 123.2) rotate(-91)"/><rect x="-2.1" y="-.9" width="4.2" height="1.8" fill="#a48a58" transform="translate(645.7 130.6) rotate(-45)"/><rect x="-2.1" y="-.9" width="4.2" height="1.8" fill="#a48a58" transform="translate(648.9 142.7) rotate(21)"/>
<ellipse cx="538.4" cy="163.2" rx="25.5" ry="15.8" fill="none" stroke="#333333" stroke-width="1.2"/>
<ellipse cx="591.8" cy="166.9" rx="25.5" ry="15.8" fill="none" stroke="#333333" stroke-width="1.2"/>
<use href="#o0" transform="translate(793.5 97.5) rotate(8)"/>
<use href="#o1" transform="translate(845 103) rotate(8) scale(-1 -1)"/>
<use href="#o0" transform="translate(757.5 120.3) rotate(8)"/>
<use href="#o1" transform="translate(808.8 127) rotate(8) scale(1 -1)"/>
<use href="#o0" transform="translate(859.3 135.6) rotate(8) scale(-1 1)"/>
<use href="#o1" transform="translate(769.7 151.4) rotate(8) scale(1 -1)"/>
<use href="#o0" transform="translate(820.6 161) rotate(8)"/>
<path d="M753.9 132.3l-1.2-.1-1.1-.4-1.2-.2-1.1-.2-1.2-.2-1.2 .4-1.1 .1-1.2-.3-1-.7-.8-.9-1-.6-.6-1-1-.7-.9-.7-1.2 .1-1 .7-1.1 .4-1.2 .1-1.2-.3-.6-1.1-.1-1.2-1-.7-1.1-.4-1.2 0-1.2 .3-1.1 .4-1.2-.2-1.1-.4-1.2 0-1.1-.3-1.2-.2-.9-.8-1-.7-1.2 .1-1 .5-.8 1-.6 1-.9 .8-.8 .9-.7 1-1.1 .6-1.1 .5-1.2-.1-1.2 .2-.9 .8-.7 .9 0 1.2 .4 1.1 .5 1.1 .4 1.2 .2 1.2-.8 .8-.8 .9-1.1 .4-1.1 .5 M755.5 122l-.7 .9-1.1 .7-1.1 .2-1-.6-.7-1-.5-1.1-.1-1.2-.2-1.2-.6-1-.9-.9-.9-.7-1.2-.3-1.1-.5-1-.6-1.2-.3-1-.7-.3-1.1-.9-.8-.8-.9-1.1-.6-1.1-.2-.9 .8-.9 .8-.9 .9-1.2-.1-1-.6-.4-1.1 .2-1.2 .1-1.2-.4-1.1-.7-.9-1.1-.6-1.2-.3-1.2-.1-1.1-.5-.7-1-.4-1.1 0-1.2-.1-1.2-.4-1.1-1.1-.4-1.2 .3-.3 1.1 .2 1.2 0 1.2-.8 1-1.1 .2-1.1-.4-1.1-.5-1.2-.2-1.2 .4-.8 .9 .3 1.2 .4 1.1-.1 1.2-1 .7-1.2 .1-1.1-.4-.6-1-1.2-.4-.8 .9-.1 1.2 .3 1.2 0 1.2-.2 1.2-.8 .8-1.2-.1 M760.8 114.4l.9-.7 .3-1.2 .1-1.2-.9-.8-1.1-.4-.8-.9-.3-1.2 .5-1.1 .7-.9 .6-1.1 0-1.2-.8-.8-1.1-.4-1.1-.5-.5-1.1 0-1.2 .2-1.2 .8-.9 .8-.9-.1-1.2-1-.6-1.2 .1-1.2 .2-1.1-.1-1.1-.5-.7-1-.4-1.2-.4-1.1-.9-.8-1.2 0-1.2 .2-1.2 0-1.1 .3-1.2 .1-.9-.8-.7-1-.1-1.2 .2-1.2 0-1.2-1-.7-1.1 .2-.9 .8-1.1 .4-1.2 .2-.8-.9-.5-1.1-.8-1-.8-.8-1.2 .2-.6 1-1 .7-1 .6-1.2-.2-.5-1.1-.5-1.1-.4-1.1-.5-1.1-1-.6-1 .6-.6 1 .4 1.1 .1 1.2-.3 1.2-.9 .8-.5 1.1-1.2 .1 M768 108.5l-.2-1.1-.5-1.1-1.2-.5-1.1-.3-1.2 0-1.1-.5-1.1-.4-1.2-.3-.4-1.1 0-1.2 .1-1.2 .2-1.2 0-1.2-.2-1.2-1.1-.3-1.2-.3-.7-.9-.2-1.2 .3-1.2 1-.7 .9-.7 .1-1.2-.9-.8-.8-.9-1.1-.4-1-.7-.2-1.2 .5-1 .5-1.2 .2-1.1-.5-1.1-1.2-.1-.9 .8-.8 .8-1.1 .5-1.1-.4-.6-1-.3-1.2-1-.6-1.1 .4-.5 1.1 .2 1.2 .5 1.1-.3 1.2-1 .6-1.2-.2-1.1-.3-1.2-.3-1.2 0-1.1 .6-.9 .7-1.2 .3-1.1-.5-.8-.9 0-1.2 .1-1.2-.1-1.2-.3-1.1-.7-1-1.1 .5-.6 1.1-.9 .8-1.1 .6-1.2-.2-1.1-.1 M777.7 103.6l-.7-.9-1-.8-1.2 .2-1.2-.1-1.1 .3-1.2-.1-.3-1.2-.3-1.1 .3-1.2 .2-1.2-.4-1.1-.8-.9-.9-.8-1.1-.5-.9-.8-.6-1-.1-1.2 .6-1 .9-.9-.1-1.2-.9-.8-1.1 .6-1.1 .5-1-.6-.3-1.2 .6-1 .7-1 .9-.9 .1-1.2-.7-1-1-.7-.8-.8-.8-.9-.5-1.1-.5-1.1-1.2-.3-1.1 .3-1.1 .6-1.1 .5-1.2-.1-.8-.9-.4-1.1-1.1-.5-1 .6-1 .7-.7 1-1 .6-1.2 .1-1-.6-.6-1.1-.3-1.1 .8-.9 1.1-.4 .2-1.2-.5-1.1-1-.6-1.2 0-1.2 .2-1.2-.1-.5-1.1 .5-1.1 1.2-.3 M784.5 101.3l-1-.7-1.2-.1-1.2 .2-1.1 .1-1.1-.5-.7-1-.3-1.2 0-1.2 0-1.2-.5-1.1-1.1-.4-1.2 .2-1.2-.1-.5-1.1 .5-1.1 .9-.8 .6-1 .1-1.2 .7-1-.3-1.2-.3-1.1-.2-1.2 .9-.8 1.2 .1 1.2 0 1.2-.1 1-.7 .8-.9 .2-1.1-.9-.8-1.1-.4-1.2 0-.7-1-.1-1.2 .1-1.2 .4-1.1 1-.8 .9-.7 .6-1 0-1.2-.7-1-1.2 .1-1.2-.1-1.1 .6-1.2 .1-.6-1 .2-1.2 .4-1.1-.2-1.2-1.1-.5-.7-1-.8-.8-.9-.9-1.1-.3-1.2-.3-1.2-.2-1-.6 M796.9 98.8l.6-1.1 .2-1.1-.1-1.2-.9-.9-.9-.7-1.2 0-1.1-.6-.5-1.1 .2-1.1 1-.6 .8-1 .4-1.1-.1-1.2-.8-.9-1.1-.4-1.2 0-1.2-.2-1.2 .2-1.2-.1-1.1-.5-.9-.7-.7-1-.7-1-.7-1-.8-.9-.9-.7-1.1-.4-1.2-.2-.9-.8-.4-1.1 0-1.2 .7-1 .5-1.1 .3-1.2 .6-1-.5-1.1 .2-1.2 .1-1.2 1-.6 1.2 0 1.1 .5 1.2 .3 .6-1 0-1.2-.1-1.2 .7-1 .7-.9 1.2-.2 1.1 .6 1.1 .3 .7-1-.3-1.2-.3-1.2 .1-1.1 .7-1.1 .5-1 .2-1.2-.3-1.1-1.2-.2-1 .7-.6 1.1 M813.6 98.1l.9-.8 .1-1.2-.1-1.2-.2-1.2 .9-.8 1.2 .4 1 .6 1.1 .5 .8-.8 .5-1.1 0-1.2-.4-1.1 0-1.2-.3-1.2-.4-1.1-.4-1.2-.3-1.1-1-.7-1.2 0-1.1 .4-1.2 .2-1.2-.3-.9-.7 0-1.2 .6-1-.2-1.2-.8-.9-1.2 .2-1 .6-1.1 .5-1.2-.2-1.2-.3-.6-1.1 .2-1.2 .6-1-.5-1.1-.5-1.1-.6-1 .1-1.2 .8-.9 1.1-.5 1.2 0 1-.6 .4-1.1 .3-1.2-.2-1.2-.3-1.1 .3-1.2 .6-1 1.1-.5 1.2 .3 1.1-.1 1.2-.2 1.1-.6 .9-.7 0-1.2 .1-1.2 .4-1.1 .9-.8 1.2 0 1.1 .4 .7 1 1.1 .4 1.1-.5 .3-1.2-.1-1.2 M826.4 99.7l1.1-.5 1 .7 1.2 0 1-.6 0-1.2-1-.7-1.2-.4-.5-1 .8-.9 1.2-.3 .8-.9 .1-1.2-.9-.7-1.2-.4-1.2-.1-.9-.7-.5-1.1-.6-1.1 .7-1 1.2-.3 1-.6 .7-1 .1-1.2-.2-1.2-1.1-.4-1.2-.4-.9-.7-.9-.8 .5-1.1 1.1-.4 1.2 0 1.2-.1 .8-.9 0-1.2-.8-1-1.1-.3-.6-1.1 .4-1.1 1.1-.4 1.2-.1 .6-1-.5-1.1-.6-1-.9-.9 .5-1.1 1.2-.2 1.2-.2 1.1-.4 .5-1.1 .2-1.2 .6-1 1-.6 1 .7 1.2 .4 1.1 .2 1-.8-.2-1.2 M839.3 103.4l-1.1-.3-1.2-.3-.8-.9-.6-1-.1-1.2 .7-1 1.1-.5 1.2-.4 1.2 .1 1.2 0 1-.5 .5-1.1-.2-1.2-.9-.8-.2-1.2 .7-1 .7-1 .9-.8 1.1-.4 1.1 .4 1.2-.1 .9-.8 1.1-.5 .1-1.2-1.1-.6-1-.6-.7-1 .3-1.2 1.1-.3 1.1 .4 .9 .9 1.1 .4 1.2-.2 .7-1-.5-1.1-.9-.8-.9-.8-.6-1 .5-1.1 1-.7 1.2 .4 .8 .8 1.2 .3 1.2-.3 1-.5 .1-1.2 0-1.2-.6-1.1-.1-1.2 .4-1.1 .9-.8 .9-.8 1-.6 1.2-.4 1-.5 1-.7 .7-1 .3-1.1 .8-.9 1.1-.5 1.2-.1 M849.7 108.6l.1-1.2 1.2-.1 1.2-.1 1.2-.4 .4-1.1-.1-1.2 .5-1.1 .9-.8 1.1-.5 1.2-.2 .8-1 .1-1.1-.4-1.2 .3-1.2 .1-1.2 .4-1.1 .7-1 .9-.8 1.1-.4 1.2-.3 1.1-.4 .5-1.1 .5-1 .9-.8 .5-1.1 .2-1.2 .2-1.2 1-.7 1-.7 1-.6 1.2-.2 .9 .8 .5 1.1 .8 .9 1.2 .3 1.1-.4 1.1-.5 .9-.8 1.1-.4 .9-.8 1.2-.1 1 .6 .8 .9 1.2-.3 .5-1.1 0-1.2-.4-1.2 .3-1.1 1.2-.2 1.2-.1 1-.7 M854 111.8l.2-1.2 .6-1 1.1-.5 1.2-.2 .6-1.1 0-1.2-1-.7-1.1-.4-1.2-.3-.6-1 .9-.7 1.2-.3 1.1 .3 1.1 .6 1.2-.3 1-.5 .6-1.1 .5-1.1 .5-1.1 .3-1.1 .5-1.1 1.1-.6 1.2 .4 1.1 .4 1.2-.2 .9-.9 .3-1.1 .7-.9 .8-1 .8-.8 1.1-.6 1.1 .2 1 .7 1.1 .6 1.1 .5 1.2 0 1.1-.4 1.2 0 1.2 0 .9 .8 .3 1.2-.4 1.1 .6 1 1.1 .4 1-.6 1-.7 .5-1.1 .7-1 1-.7 1.1-.4 1.2 0 1.2 .1 .7-1.1 .2-1.2-.3-1.1-.9-.8-.4-1.1 M861.3 120.4l.7-1 1.1-.3 1.2-.1 1.2 0 1.2 .3 1.1 .4 1.1-.4 .8-.9 .6-1.1 .2-1.1 .3-1.2 .6-1 1.2-.3 1 .6 1.2 .1 1.2 .1 1.2-.3 .8-.9 .5-1 .1-1.2-.6-1.1 .2-1.2 1-.6 1.2-.2 1.1 .2 1.2 .1 1.1-.5 .2-1.2-.8-.9-1-.7-.4-1.2 .2-1.1 1.1-.5 1.2 .2 1 .7 1 .7 1.1 .3 1.2 .1 1-.6 1.2-.1 1.2 .4 .3 1.1 .3 1.2 1 .6 1.2-.3 .4-1.1 .5-1.1 1.2-.3 1.2 .1 .8 .8 .7 1.1 .6 1 1 .7 1.2 .1 1.2 0 1.2 0 1.1 .5 .7 1 .6 1 .7 1 1.1-.7 M862.7 123.7l.6 1-.1 1.2 .2 1.2 1.2 .3 1.1-.4 .7-1 .7-1 1-.6 1-.5 1.1 .6-.1 1.2-.1 1.2 .7 1 1.2 .1 1-.6 .6-1.1 .3-1.1 .3-1.2 .7-1 1-.6 1.2-.3 1.1 .3 1.1 .4 1.2 .2 .9-.8 .4-1.1 .6-1.1 .6-1 1.2-.2 1.2-.2 1.1 .4 .4 1.2 .1 1.2 1.1 .4 1.2 0 .7-1 .6-1 1-.7 1.1-.5 1.2-.2 1.1 .2 1.2 .2 1.2 .3 .9 .8 1.2-.1 1.2-.3 .8-.8 1-.6 M863.8 131.3l.8-.9 1.1-.4 1.1-.6 .9-.7 1.1 .3 1 .7 .7 1 .9 .8 1.1 .4 1.2 .1 .7-1-.1-1.2 .3-1.2 .3-1.2 .9-.8 1.2 .1 1.2 .2 1 .6 1.2 0 .6-1.1 .1-1.2 .9-.9 1.1-.5 1.1-.3 1.2-.1 1.1-.3 1.1-.5 .7-1 .7-1 .5-1.1 .6-1 1.1-.6 1.1-.3 1.2 .3 .5 1.1 .8 .9 .8 .9 .6 1 1.2 .3 .8-.9 1.2-.1 1.2 .1 1.2 0 1.1 .5 .7 .9 .7 1 1 .7 1.1 .4 1.1-.4 .7-1.1 .4-1.1 1.2 0 1 .6 .9 .8 M860.5 140.9l.6 1.1 1.1 .4 1.2 .1 .8-.9 1-.6 1.2 .3 .9 .8 0 1.2-.6 1-.7 1-.6 1.1 .6 1 1.2 0 .6-1 .6-1 .4-1.2 1.1-.6 1.1 .3 1 .8 .5 1-.6 1.1 .2 1.2 .7 1 1.1 .4 1.2-.1 1.2-.2 .9-.7 1.2 .1 1.1 .6 0 1.2 .1 1.2 .6 1 1.1 .6 1.1 .3 1.2 0 1.1-.5 1.2-.1 1 .5 .8 1 .8 .8 .7 1 1.2 0 .4-1.2 .5-1.1 1.1-.4 1.2 0 1.1 .4 .6 1.1 .9 .8 1.1-.5 .8-.9 .4-1.1 .6-1.1 1.2 0 1 .6 1.1 .6 1.1 .4 1.1 .4 1.1-.5 .9-.8 .4-1.1 .4-1.1 M852.7 149.3l1.1-.6 1.1-.5 1.1 .4 .2 1.2-.3 1.1 .3 1.2 0 1.2 .5 1 1.2 .4 1.2 0 1.2-.1 1.1-.4 1.1-.4 1.2 .3 1.1 .5 .9 .8 1.2 .2 1.2-.2 1.1-.4 .9-.8 .8-.9 .7-.9 1.2 0 1.1 .6 .3 1.1-.2 1.2 .1 1.2 .6 1 1.2 .2 1.2 .1 1.2 0 .8 1-.1 1.2-.1 1.2 0 1.1 .8 1 1.1 .5 1 .6 .5 1.1-.8 .9-1 .7-.7 .9 .1 1.2 1.1 .6 1.2 .2 1.1 .1 .8 1 M847.2 152.9l1-.8 .9-.7 .9-.8 1.2 .1 1 .7 .5 1.1 .1 1.1-.3 1.2 .3 1.1 1.2 .2 1.2 0 .5 1.1-.2 1.1-1 .6-1.2 0-.9 .8-.8 .9 0 1.2 .7 1 1 .5 1-.7 1.1-.5 .7 1 .1 1.2 0 1.1 .3 1.2 1.1 .4 .9-.8 .6-1 1.1-.6 1 .6 .2 1.2 .4 1.1 1.1 .5 1-.6 .4-1.2 .4-1.1 1.2 .1 1.1 .4 .5 1.1 .7 1 .8 .9 .7 .9 1.2 .3 1.1-.5 .8-.9 1.1-.5 1.1 .6 .7 1 .3 1.1-.4 1.1-.8 1 .3 1.1 .6 1.1 .6 1.1 .1 1.1 .4 1.2 .4 1.1 .4 1.2 .8 .8 .3 1.1 M839.1 156.7l1.2 0 1.1-.4 .9-.7 1.2-.1 1 .7 .4 1.1 .5 1.1 0 1.2 0 1.2 .1 1.2 .4 1.2 .5 1.1-.1 1.2-.9 .8-1.2 .1-1 .6-1.1 .4-.9 .8 .7 1 1.2 .2 1.2 0 .8 .8-.1 1.2-.2 1.2 .4 1.2 .6 1 1.1 .3 1.2-.2 1.2 .2 .7 1 .6 1 .5 1.1 .1 1.2 .1 1.2-.4 1.2 .4 1.1 .6 1 .8 .9 1.2 .2 .8-.8 1.2-.5 1.1 .4 .4 1.1-.6 1.1-1 .6-.3 1.2 .4 1.2 1.2 .1 1.1 0 1.2 .4 1 .7-.1 1.2-.2 1.1 1.1 .3 .7-1 M824.2 160.7l1.2 .2 1.2 .1 1.1-.3 1.2 .1 .9 .8 .8 .9 .9 .9 1.1 .5 1.1 .1 1.1-.5 .6-1 1-.7 1.2 .1 1.1 .6 .1 1.2 .5 1.1 .1 1.2 .6 1 1.2 .2 1.2 .2 1.2-.1 1.2-.1 1.2 0 1.2 .2 .7 .9 .5 1.1 .2 1.2 .5 1.1 .6 1 1.1 .5 1.1 .4 1.1 .5 1.2 .3 1.2 .2 .5 1.1-.7 1-1 .5-.5 1.1 0 1.2 .1 1.2 .2 1.2-.2 1.2-.4 1.1-.5 1.1-.9 .7-1.2 .4-1.2-.1-.8 .8-.7 1-.3 1.1 .4 1.2 .2 1.1-.6 1-1.2 0-1.1-.4-1.2-.5-1.1 0-1.2 .4-.7 .9 .3 1.2 .6 1 .2 1.2-.3 1.2-.4 1.1-1.2 .4-1.2 0-1.2 .2 M810.8 162l-1.1 .4-1.2 0-1.1 .3-.9 .8-.2 1.2 0 1.2 .2 1.2 0 1.2-.7 1-1 .6-1.2 .3-1 .6-.8 .9-.4 1.1 .6 1.1 .8 .9 .8 .8 .4 1.1-.2 1.2-.5 1.1-.3 1.2 .1 1.2-.1 1.2 .4 1.1 .3 1.2 .8 .9 .5 1.1 .2 1.2-.2 1.2-.8 .9-.4 1.1 .1 1.2-.7 1-.6 1 .5 1.1 .1 1.2 .7 1 .3 1.1-.7 1.1-1.1 .4-1.2 .1-1.2 .1-.3 1.1 .8 .9 1.1 .4 1.2 .4 1.1 .4 .8 .9 .4 1.2 .2 1.2 .8 .9 1.1-.4 .8-.8 1-.7 1.2-.1 1.2 .1 M795 161l-.1 1.2-1 .7-1.2 0-1.2 0-1.1 .3-.6 1.1 .5 1 .8 1-.6 1.1-1.2 0-1.1 .5-.8 .8 .4 1.2 1.1 .4 1.2 .1 .9 .8 .1 1.2 .6 1 1.1 .5 .9-.9 .2-1.2 .4-1.1 .7-1 1.2-.2 1.1 .5 .8 .9 .1 1.2-.1 1.2 .1 1.2 .1 1.2 .4 1.1 .7 1-.2 1.1-1 .7-1.1 .6-1.1-.5-1.2-.2-1-.5-1-.8-1.1-.3-1 .8-.7 1-1 .6-.5 1.1-.7 .9-.7 1-1.2 .3-1.2 0-1.1-.4-1.1-.4-1 .7-.4 1.1-.4 1.1-.4 1.2-.2 1.1-.4 1.2-.4 1.1-.4 1.1-.2 1.2 .3 1.2 .7 .9 1.2 .1 1.1-.6 .5-1 .9-.9 1.1-.5 .9 .8 M790.4 160.2l.7 1 .2 1.1-.7 1-1 .6-1 .7-1-.7-.7-1-1-.7-1.2-.1-1 .6-1 .6-.6 1.1-.6 1-.5 1.1-1.2 .2-1.1-.3-1.2-.3-1.2 0-1.2 0-1 .7-.2 1.1-.2 1.2-.2 1.2-.6 1.1-1.2 .1-1-.6-1-.6-1.2 .2-.4 1.2 .4 1.1 .3 1.2 .7 .9 .7 1 .5 1.1-.7 1-.4 1.2-.9 .7-.1 1.2 .4 1.1 .7 1 1 .7 .7 1 0 1.2 0 1.2-.3 1.1-1 .7-.1 1.2 .4 1.1 .9 .8 1.2 .2 1.2 .1 1.1 .5 1.2 .3 .6 1 .1 1.2 .2 1.2 M777 156.1l-.9 .7-.1 1.2 .7 1 1.1 .3 .9 .8-.3 1.2-.9 .7-1.2-.2-1.2 0-.8 .9-.2 1.1-.4 1.2-.6 1-.8 .9-.5 1.1-1 .7-1.1 .3-1.1-.5-.9-.8-.8-.9-1.2-.2-1.2 .3-.8 .9 0 1.2-.3 1.1-.7 1-1.2-.2-1.1-.4-1.1 .4-.4 1.2 .6 1 1 .7 .6 1-.2 1.2-1.2 .2-1 .6-1 .8 0 1.2 .2 1.2 .3 1.1-.4 1.2-.3 1.1-1 .8-1.2-.3-1-.7-1.1-.2-1.2 .4-1 .5-.4 1.2-.1 1.2-.3 1.1-.3 1.2-.7 .9 M765.5 149.7l-1.2 0-1.2 .2-.7 1-.7 1-.7 .9-.9 .9-1.1 .5-1.2 .2-1.1-.4-1-.6-1.2 0-.5 1.1 0 1.2 .2 1.2-.1 1.2-.4 1.1-1.1 .6-1.1 .3-.6 1-.1 1.2 .5 1.1 .8 .9 .6 1-.5 1.1-.3 1.2-.8 .9-1 .7-.8 .9-.3 1.2 .1 1.2 .5 1-.1 1.2-.8 .9-1.1 .4-1 .8-.9 .7-.8 .9-.5 1.1-.6 1-.6 1.1-.7 1-.7 .9-1.1 .5-1 .7-1 .7-1 .6-1 .7-1 .6-.9-.8-.4-1.1 .2-1.2-.8-.9-1.2 .1-1.1-.3-.6-1.1 .9-.8 1-.6 .8-.9-.8-1-1.1-.2-1.1-.6-.7-.9-.5-1.1-1-.7-1-.6-1 .8 M760.3 145.1l-1.1 .4-1.1-.3-.9-.8-1.1-.5-1.1 .4-.8 .9-1.1 .5-1.1 .3-1.2-.3-1.2 0-1.1-.5-1-.6-.8-.9-1.2 .2-.7 1-.4 1.1-.3 1.1-.7 1-1 .7-1.1 .6-1.2 .2-1 .6-.2 1.2 .3 1.1 .3 1.2 .3 1.1-.1 1.2-.4 1.2-.6 1-.7 1 0 1.2 .5 1.1 .6 1 1.1 .6 1 .6 .4 1.1-.1 1.2-1.1 .6-1.2 0-.9-.8-.9-.8-.9-.8-1.2-.2-1 .6-1.1 .4-.6 1.1-.3 1.1-.5 1.1-.6 1.1-1.1-.5-1-.7-.4-1.2 0-1.2-1-.6-1 .6-1 .8-.9 .7-1.2 .3-1.1-.3-.8-.9-.4-1.2 .2-1.1-.5-1.2-1.2-.2-.7 1 .9 .8 M755.2 137.1l-1 .7-.8-.9-.7-1-1.2 0-1 .6-.6 1.1 0 1.2-.7 .9-1.2 0-.9-.8-1-.7-1 .6-.7 1-.7 1-1.2 .2-1.1-.5-1-.6-.8-.9-1.2 .1-.7 .9-.7 1-.8 .9-1.2-.1-1.2-.2-1.2-.3-.8 .9-.5 1.1-.7 1-1 .6-1.1 .5-1-.7-1.1-.5-1.2-.3-1.1 .2-.9 .8-.6 1.1-1 .5-1.2 .3-1.1 .5-1.1-.5-1.2-.3-.8-.9-.8-.9-.7-.9-1-.7-1.2 0 M840 98.4l-.4 1.1-.4 1.2-.6 1-.9 .8-1.2 0-1-.6-1.2-.1-1.2 .3-1 .7-.5 1.1 .1 1.2-.5 1.1-.9 .8-1.1 .5-1.2-.2-1.1-.5-.3-1.2-.8-.8-1.2-.2-1 .7-.6 1 M804.5 128.6l.2 1.2 .2 1.2-.6 1-.9 .8-1.2-.4-.9-.7-.9-.9-1.1-.5-1.2 .2-.1 1.2 .7 .9 .7 1 .5 1.1-.2 1.2-1 .7-1.2 .1-.8 .9-.6 1 .4 1.1 1.2 .3 1.2-.1 M844.4 133.8l.1-1.2 1.1-.5 1.2 .1 .8-.8 .4-1.1-.6-1.1-1.2-.3-1.1-.5-.7-.9-.6-1.1-.3-1.1 .2-1.2 .7-1 .7-.9-.1-1.2-.3-1.2-.6-1-.4-1.1 .6-1.1 1.1-.4 M768.6 142.1l-.5-1.1-.2-1.1 1-.7 .8-.9 .2-1.2-.4-1.2-1.2 .1-1.1 .4-1 .7-1.2 .2-.4-1.1-.2-1.2 .2-1.1 .9-.9 .9-.8 .3-1.1-.8-.9-1-.6-1.2 .2-1.2 .4-1.1 .5-1-.6-.2-1.2-.1-1.2 .1-1.2 M820.8 110.7l-1.1 .6-.8 .9-1.1 .4-1.1 .5-1.2 .3-1.1 .4-1 .7-.9 .7-.6 1.1 .3 1.2 .8 .8 .3 1.2-.6 1.1-1 .6-1.2 0-1.2 .1-.9-.8-1.1 .6 M797.8 99.2l-1.1 .2-1.2 .2-1.1 .4-.7 1 .3 1.2 .6 1 .8 .9 .1 1.2 0 1.2-.8 .9-1.1 .4-.9 .8-1.2 .1-1.2 .4-.8 .8-.6 1 .4 1.2 1 .7 M772.5 147.9l.1-1.2-.4-1.2 .2-1.1 .1-1.2 .5-1.1 1-.6 1.2-.2 1.2 .2 1.2 .2 1.1-.3 .8-.9 .3-1.2-.2-1.2-.2-1.1-.6-1.1-.9-.9-.1-1.2 .5-1 .9-.9 .6-1 .5-1.1-.2-1.1-.8-.9-.1-1.2 M772.7 124.4l1.1 .6 .3 1.2-.3 1.1 .8 1 .9 .7 1.2 .4 1.1 0 1.2 .4 .1 1.2-.2 1.2-.1 1.2 .6 1 1 .6 1-.7 .7-1 .5-1.1 1-.7 1.1-.5 1.2 .1 .7 1 0 1.2-.6 1-.5 1.1 .1 1.2 .7 1 1.1 .5 1.1-.3 M815.6 99.4l-1 .6-1.2 .2-1.2-.3-.8-.9 .5-1 .3-1.2 .5-1.1 .4-1.1 .3-1.2-.4-1.1-1.2-.1-1.2 .3-1.1-.4-.7-1-.7-.9-.2-1.2 .3-1.2-.4-1.1-.9-.8-1.2 .3-1.2 0-1.1 .6 M820 124.9l-.9-.9-1-.6-1.2-.3-1.2-.2-.3-1.1 .8-.9 1-.7 .9-.8-.2-1.1-1.1-.6-1.1 .4-1.2 .3-.7-1 .3-1.2 .2-1.1-.5-1.1-1.1-.5-1.1 .4-1.1 .5-1.1-.6-.2-1.2-.3-1.2-.7-.9-1.2-.2-1.2 .3-1.1 .5-1.1 .3 M855.4 146.3l-1.1-.3-.2-1.2-.7-1-1.2 .3-1.1 .5-.2 1.2-.8 .9-1.2 .3-1.2 0-1.2 .2-1.1 .4-.8 .8-.7 1.1-.8 .8-.6 1.1-1.1 .3-1.1 .5-1.2 .2-1 .8 M802.6 154.2l1.1 .3 1-.7 1.1-.5 1.2-.3 .8 .9 .9 .8 1.2 .3 1-.5 .7-1 .9-.8 1.1-.4 1.2 .1 1.2 .2 1.1 .3 1.2 .1 1.1-.5 .9-.8 .6-1 .7-1 1-.6 M803.6 146.7l-1.2-.2-1.2 .1-1.2 .1-1.2-.3-.4-1.1-.7-.9-.9-.9-.9-.8-1.2 .2-1.1-.1-1.2-.3-.5-1-.5-1.1-.5-1.1-1.1-.6-1.1 .1-1.2 0-1.2-.3-.9-.9-.2-1.1-.4-1.2-.8-.8-1-.7-1.1-.5-1.1-.4-1.2-.4-1.1-.4-1.1-.4 M794.2 130.5l-.2 1.2 .1 1.2-.3 1.1 .9 .7 1.2 .3 1.2-.4 1-.6 1.2 .1 1 .6 .9 .9 .9 .8 1.1 .4 1.1-.6 .7-1 .8-.8 1.2-.2 .9 .8 .1 1.2-.2 1.2 .2 1.1 .7 1 1 .7 .4 1.2-.2 1.2-1.1 .5-1.1-.3-.9 .9 .2 1.2 1.1 .6" fill="none" stroke="#b8b8b8" stroke-width="1.2" stroke-linejoin="round" stroke-linecap="round"/><path d="M703.1 140L705.9 137.3L707 139.8zM706.7 113.8L709.5 111.3L710.5 113.8zM721.7 88.4L723.9 85.3L725.5 87.4zM727.7 82.9L731.5 81.9L731.2 84.6zM746.5 67.7L744.5 71L742.8 68.9zM765.2 61.6L769.1 61.5L768.2 64zM787.9 58.3L789.4 54.7L791.4 56.5zM822.8 54L823.8 57.7L821.1 57.5zM839.7 60.8L839.7 64.7L837.2 63.7zM868.5 66L865.3 68.2L864.7 65.6zM889.3 78.7L886.2 81.1L885.4 78.5zM889.2 87.1L892.4 89.3L890.1 90.8zM911.1 111L907.3 111.7L907.7 109.1zM904.1 116.7L902.1 120L900.5 117.9zM913.5 124.8L909.8 123.8L911.3 121.6zM908.1 148.5L908.2 152.4L905.7 151.5zM885.9 172.2L882.1 171.5L883.5 169.2zM879.7 184.4L876.8 181.9L879.1 180.6zM863.8 191.2L861 193.9L860 191.4zM836 199.4L839.5 197.7L839.7 200.4zM813.6 206.2L809.9 207.4L810 204.8zM787.5 192.9L783.8 193.7L784.1 191zM777.3 198.8L775.4 195.4L778 195zM748.2 191.5L748.6 187.6L751 188.8zM724.3 175.6L727.7 173.9L728 176.6zM720.1 166.7L718.5 163.2L721.2 162.9zM710.5 142.5L714.3 142.2L713.6 144.8z" fill="#b8b8b8"/>
<path d="M805.6 123.5l-.1-1.2 .5-1.1 1-.7 1.1 .2 1.2 .2 1.2 .2 1.2-.3 .8-.8 .3-1.2-.3-1.2-.4-1.1 .8-.9 1-.7 1.1 .5 .9 .9 .6 .9 1.1 .6 1.2 .3 1-.6 .6-1 .2-1.2 .1-1.2 1-.7 1.2 .4 1 .6 1.2 .2 1.2 .2 1.1 .4 1.2-.4 1.1-.3 1-.7 1.2 .1 .9 .8 .9 .8 .9 .8 .5 1.1 .4 1.1 .3 1.2 .8 .9 1.1 .3 1.1-.4 .7-1 1.1-.5 1.2-.3 1.2 0 .8 .9 .4 1.1-.2 1.2 0 1.2 .2 1.2 .7 1 1.1 .4 1.1-.5 1-.7 1.2-.3 1.2 0 .8 .8 .4 1.1-.4 1.1-.4 1.2 .1 1.2 1.2 .3 1.2-.3 1.1-.4 1.2-.1 .5 1.1-1.2 .3 M808 129.8l.8-.9 .7-1 .8-.8 1.2 0 .7 1 .2 1.2-.2 1.2 .2 1.2 .4 1.1 1.2 .4 1.2 .1 1-.7 1-.7 .8-.8 1.2-.3 1.2 .3 .9 .8 .9 .8 1.1 .5 1 .6 1.2 .1 1.2-.3 .8-.9 .6-1 .6-1 1.2-.4 1 .5 .5 1.1-.4 1.2-.7 1-.9 .8-.5 1 .6 1.1 1.1 .3 1.2 .1 1-.8 1-.6 1.1 .3 .8 .9-.1 1.2-.4 1.2-.1 1.2 .6 1 1.1 .4 1.2-.2 .6-1 .1-1.2-.2-1.2 1-.7 1 .7 0 1.2 0 1.2 .9 .8 1.2-.1 1.1-.5 .7-.9 .8-.9 .6-1.1 .5-1.1 1.2 .1 .7 .9 .3 1.1 .3 1.2 .5 1.1 .7 1 1.1 .2 1.2-.3 1-.6 1.1-.6 1.2 .1 1 .6 .9 .8 M810.7 130.1l1.2 .2 1.1-.2 1.2 .5 .7 .9 .1 1.2-.2 1.2-.4 1.2-.1 1.1 .6 1.1 .8 .9 1.1 .4 1.2 .2 1.1 .6 0 1.2-.1 1.2-.6 1-.7 1 .3 1.1 .8 .9 1.1 .3 .9-.7 .5-1.1 .8-.9 1.2-.4 1.1-.3 1 .7 1 .6 1.1 .4 1.2 0 1.2 .3 1.1-.6 1.1-.4 1.2-.3 1 .5 .6 1.1-.4 1.1-.7 1-1.2 .3-.8 .9-1 .7-.4 1.1 .3 1.2 0 1.2-.4 1.2-.9 .7-1.2 .2-1.1-.5-1.1-.4-1.2-.1-1 .7-.3 1.1-.2 1.2-.8 .9-.8 .9-1.1 .5-1.2 0-1.2 0-1.2 .2-.6 1 .5 1.1 1 .6 M813.8 130.4l-1.2 .1-.9 .9 .2 1.1 .5 1.1 .6 1.1 .6 1 .3 1.2 .1 1.2-.7 .9-.9 .9-.9 .7-.4 1.2 .3 1.1 1.1 .5 .6 1.1-.9 .8-.8-.8-.4-1.2-1.1-.5-1.2-.2-1.1 .5-.5 1.1 .3 1.1-.2 1.2-1.1 .5-.8-.8-.3-1.2-.2-1.2-.8-.9-1.1 .1-1 .8-.1 1.2-.2 1.1-.6 1.1-.7 1-1.1 .5-1-.7-.8-.9-.3-1.1-.8-.9-1.2-.4-1.1 .3-.1 1.2 0 1.2 .1 1.2-.4 1.1-.4 1.2-.7 .9-1.2 .1-1.1-.6-.6-1-1-.6-1.2 0-1.1 .4-.6 1-.6 1.1-.5 1.1-.8 .9-.4 1.1-.9 .9-1.2 0-1.1-.2-1.1-.5-1.1 .6 M805.2 124.9l-1.2 .1-1.2 .2-1.2 0-.3 1.2-.1 1.2 .3 1.1 .9 .8 .8 .9 .5 1.1-.8 .9-1.1-.4-1-.8-.9-.7-1.2 0-.7 1-.7 .9-1.1 .6-1.2-.1-.3-1.1 .1-1.2-.5-1.1-1.1-.5-1.2 .2-.9 .7-.2 1.2-.3 1.2-.6 1-1.1 .6-1.2-.1-.6-1-.1-1.2-.3-1.1-1-.7-1.2 0-1.1 .4-.5 1.1-.3 1.2-.5 1.1-.8 .9-1.2 .1-1.1-.3-.9-.9-1.2-.2-.9 .7-.4 1.2 .4 1.1 1.1 .5 1 .7-.2 1.2-1.2 .1-1-.5-1-.7-1.1-.5-.9-.8-1.1-.5-1.1-.4-1.1 .4-1.2 .5-.9 .7-1.1 .6-1 .5-1.2 .3-1.1-.4-1.1-.6-1.2 0-.8 .9-.2 1.2 M808.1 129.3l-1.1-.5-1.2-.1-1.2 .1-1.2-.1-.6-1-.3-1.1 .9-.8 .9-.9 .8-.9-.3-1.1-1.1-.5-1.2 .3-.7 1-.3 1.1-1 .6-1.1-.6-.5-1.1 .3-1.1 .4-1.1-.5-1.2-1.1-.4-.9 .8-.4 1.1-.1 1.2-.2 1.1-.7 1-.8 .9-1.2 .3-1.2 0-1.1-.5-1.1 .5-.6 1.1-.3 1.1-.8 1-1 .5-1.1-.5 0-1.2 .4-1.1-.4-1.2-1.1-.1-.7 1-.6 1-1.1 .5-1.1-.5 .1-1.2 .9-.8 .2-1.2-.3-1.2-1-.7-1-.6-1.2-.4-1-.5-.8-1-.1-1.2 .2-1.1-.1-1.2 .2-1.2-.9-.9-1.2-.2-1.2 0-1.2 0-.8-.9-.4-1.1-.3-1.2-.6-1-.8-.9-1.2 .2-1.1 .6-.8 .9-1.1 .5-1.2 .1-.9-.8-.7-1-.7-.9-.8-.9-1.2-.2 M804.3 130.7l.9-.8 .7-1-.2-1.2-.7-.9-1-.7-.7-1 0-1.2 .6-1 .7-1 .9-.7 .7-1-.1-1.2-.5-1.1-.8-.8-1.1 .4-1.2 .3-.8-.9 .2-1.2 1-.7 .9-.8 .6-1-.5-1.1-1.2-.3-1.1-.3-1.2 .2-.9-.8 .1-1.2 .8-.9 .8-.8 .4-1.2-.9-.8-1.1-.3-1.2 0-1.1 .4-1.1-.5-.3-1.2 .7-.9 1.1-.4 .2-1.2-.6-1-1.2 .4-.4 1.1-.3 1.2-.3 1.1-1.2 .2-.9-.8-.5-1.1 .7-.9 .2-1.2-.6-1.1-1.1-.2-1.1 .6-.7 1-1 .7-1.2-.1-1-.5-.7-1-.2-1.2-.1-1.2-1-.5-1.2 .2-1 .7-.9 .8-1.1 .3-1.2 0-1-.7 .3-1.2 .7-.9 M805.8 123.3l-1.1-.5-1.1 .3-1.2-.2-1.2-.3-1.2-.1-.9-.8 .2-1.2-.1-1.2-.7-1-1.1-.5-1.2 .1-1.2 .1-1 .6-.9 .9-1 .6-1.2 .2-.6-1 .4-1.1 .9-.8 .8-.9 1-.6 .7-1-.5-1.1-.7-1-.7-.9-1.1-.6-1.2-.2-.7-.9-.3-1.2 .2-1.2 1-.6 1.2-.5 1.1-.3 1.2-.2 .9-.7 .4-1.2-.5-1-.9-.9-1.1-.4-1.2 0-1-.6 .3-1.2 1.2 0 1.2 .3 1 .5 1.2 0 .4-1.1 .4-1.1 .7-1 .2-1.2 .5-1.1 1.1-.4 1.1 .6 .7 1 0 1.2 1 .6 1.1 .6 1.2-.4 .1-1.2 .2-1.2-.1-1.2 .1-1.2-.1-1.2 .4-1.1 .3-1.2 .9-.7 1.2 0 M813 130.4l1.1-.4 1-.7 .5-1.1-.1-1.2-.5-1.1-.1-1.2 .4-1.1 1.1-.4 1.2 .3 1 .6 .8 1 1 .6 1.1-.7 .4-1.1-.1-1.1-.8-.9-.4-1.2-.3-1.1 .2-1.2 1-.8 1.2 .1 1 .6 .8 .9 .6 1 .8 1 1.1 .3 1.2-.2 .9-.8 .9-.8 1-.7 1.2-.2 .7 1 .5 1 .8 1 1.2 .3 .6-1-.1-1.2-.6-1.1-.5-1.1-.3-1.1-.2-1.2 .3-1.2 .9-.8 .6-1 .5-1.1 0-1.2 .3-1.2 .4-1.1 .3-1.2 .6-1 1.2 0 1.1 .3 1.2 .4 .8 .8 1.2 .1 1.1-.4 .6-1.1 .4-1.1 .6-1 1.1-.6 1.2-.2 1 .6 M795 120.8l-.1 .2-.1 .2-.2 .4-.2 .5-.1 .4 .2 .2 .4 .2 .5 0 .6 .1 .7 0 .8 0 .8 0 .7-.1 .7-.1 .6-.1 .5-.2 .6-.1 .5-.1 .5-.1 .6 0 .5 0 .5 .2 .4 .3 .4 .3 .3 .4 .4 .5 .3 .4 .4 .5 .4 .4 .6 .1 .7 0 .8-.1 .7 0 .4 .2 .3 .4 .1 .6 0 .6 0 .7-.1 .6-.1 .7-.2 .6-.4 .5-.4 .5-.5 .3-.4 .5-.3 .5-.1 .5-.1 .6-.2 .5-.2 .4-.4 .3-.5 .2-.6 .2-.7 .2-.7 .3-.8 .2-.8 .3-.8 .3-.7 .4-.7 .3-.4 .4-.1 .4 .1 .3 .5 .4 .6 .3 .6 .1 .8 .1 .8-.1 .7-.1 .6-.1 .6-.2 .5-.2 .4-.2 .2-.1 .1-.1" fill="none" stroke="#2479cb" stroke-width="1.8" stroke-linejoin="round" stroke-linecap="round"/><path d="M854 132.7L854.3 128.3L857.2 129.6zM859.6 144.2L855.2 143L857 140.5zM819.6 163.6L815.6 161.6L818 159.5zM775.5 156.2L779.7 154.5L779.8 157.6zM758.4 141.6L758.9 137.1L761.7 138.5zM758.7 106.8L763.2 107.3L761.7 110.1zM780.4 94.3L780 98.8L777.2 97.4zM808.9 88.9L805.4 91.7L804.4 88.8zM852.2 103.8L847.8 104.7L848.3 101.6z" fill="#2479cb"/>
<ellipse cx="793.5" cy="97.5" rx="25.5" ry="15.8" fill="none" stroke="#e4834f" stroke-width="1.2" transform="rotate(8 793.5 97.5)"/>
<rect x="-2.8" y="-1" width="5.5" height="2.0" fill="#1c5fae" transform="translate(815.9 106.9) rotate(42)"/><rect x="-2.1" y="-.9" width="4.2" height="1.8" fill="#a48a58" transform="translate(807.3 112) rotate(72)"/><rect x="-2.1" y="-.9" width="4.2" height="1.8" fill="#a48a58" transform="translate(789.1 112.8) rotate(101)"/><rect x="-2.1" y="-.9" width="4.2" height="1.8" fill="#a48a58" transform="translate(775.7 107.3) rotate(125)"/><rect x="-2.8" y="-1" width="5.5" height="2.0" fill="#1c5fae" transform="translate(768.2 96.4) rotate(174)"/><rect x="-2.1" y="-.9" width="4.2" height="1.8" fill="#a48a58" transform="translate(774.8 85.2) rotate(-121)"/><rect x="-2.1" y="-.9" width="4.2" height="1.8" fill="#a48a58" transform="translate(791.2 81.5) rotate(-88)"/><rect x="-2.1" y="-.9" width="4.2" height="1.8" fill="#a48a58" transform="translate(807.6 85.5) rotate(-63)"/><rect x="-2.8" y="-1" width="5.5" height="2.0" fill="#1c5fae" transform="translate(816.9 93.5) rotate(-32)"/>
<ellipse cx="845" cy="103" rx="25.5" ry="15.8" fill="none" stroke="#e4834f" stroke-width="1.2" transform="rotate(8 845 103)"/>
<rect x="-2.8" y="-1" width="5.5" height="2.0" fill="#1c5fae" transform="translate(861.4 116.5) rotate(66)"/><rect x="-2.1" y="-.9" width="4.2" height="1.8" fill="#a48a58" transform="translate(839.2 118) rotate(103)"/><rect x="-2.1" y="-.9" width="4.2" height="1.8" fill="#a48a58" transform="translate(824.9 111) rotate(132)"/><rect x="-2.1" y="-.9" width="4.2" height="1.8" fill="#a48a58" transform="translate(819.7 100.6) rotate(182)"/><rect x="-2.8" y="-1" width="5.5" height="2.0" fill="#1c5fae" transform="translate(823.7 92.6) rotate(-132)"/><rect x="-2.1" y="-.9" width="4.2" height="1.8" fill="#a48a58" transform="translate(841 87) rotate(-91)"/><rect x="-2.1" y="-.9" width="4.2" height="1.8" fill="#a48a58" transform="translate(855.7 89.5) rotate(-69)"/><rect x="-2.1" y="-.9" width="4.2" height="1.8" fill="#a48a58" transform="translate(868.4 98.9) rotate(-32)"/><rect x="-2.8" y="-1" width="5.5" height="2.0" fill="#1c5fae" transform="translate(870 107.9) rotate(16)"/>
<ellipse cx="757.5" cy="120.3" rx="25.5" ry="15.8" fill="none" stroke="#e4834f" stroke-width="1.2" transform="rotate(8 757.5 120.3)"/>
<rect x="-2.8" y="-1" width="5.5" height="2.0" fill="#1c5fae" transform="translate(781.6 127.2) rotate(28)"/><rect x="-2.1" y="-.9" width="4.2" height="1.8" fill="#a48a58" transform="translate(770.5 135.1) rotate(74)"/><rect x="-2.1" y="-.9" width="4.2" height="1.8" fill="#a48a58" transform="translate(749.3 134.7) rotate(107)"/><rect x="-2.1" y="-.9" width="4.2" height="1.8" fill="#a48a58" transform="translate(739.4 129.9) rotate(126)"/><rect x="-2.8" y="-1" width="5.5" height="2.0" fill="#1c5fae" transform="translate(732.2 118.7) rotate(177)"/><rect x="-2.1" y="-.9" width="4.2" height="1.8" fill="#a48a58" transform="translate(737.8 108.6) rotate(-124)"/><rect x="-2.1" y="-.9" width="4.2" height="1.8" fill="#a48a58" transform="translate(751.5 104.3) rotate(-94)"/><rect x="-2.1" y="-.9" width="4.2" height="1.8" fill="#a48a58" transform="translate(769.6 107.4) rotate(-67)"/><rect x="-2.8" y="-1" width="5.5" height="2.0" fill="#1c5fae" transform="translate(782.2 118.8) rotate(-20)"/>
<ellipse cx="808.8" cy="127" rx="25.5" ry="15.8" fill="none" stroke="#e4834f" stroke-width="1.2" transform="rotate(8 808.8 127)"/>
<rect x="-2.8" y="-1" width="5.5" height="2.0" fill="#1c5fae" transform="translate(828.9 138.4) rotate(54)"/><rect x="-2.1" y="-.9" width="4.2" height="1.8" fill="#a48a58" transform="translate(813.7 143) rotate(88)"/><rect x="-2.1" y="-.9" width="4.2" height="1.8" fill="#a48a58" transform="translate(801.8 141.7) rotate(105)"/><rect x="-2.1" y="-.9" width="4.2" height="1.8" fill="#a48a58" transform="translate(787.8 134) rotate(136)"/><rect x="-2.8" y="-1" width="5.5" height="2.0" fill="#1c5fae" transform="translate(784.4 120.6) rotate(-155)"/><rect x="-2.1" y="-.9" width="4.2" height="1.8" fill="#a48a58" transform="translate(794.1 112.8) rotate(-110)"/><rect x="-2.1" y="-.9" width="4.2" height="1.8" fill="#a48a58" transform="translate(812.3 111.6) rotate(-80)"/><rect x="-2.1" y="-.9" width="4.2" height="1.8" fill="#a48a58" transform="translate(827 117.5) rotate(-54)"/><rect x="-2.8" y="-1" width="5.5" height="2.0" fill="#1c5fae" transform="translate(833.9 127) rotate(-12)"/>
<ellipse cx="859.3" cy="135.6" rx="25.5" ry="15.8" fill="none" stroke="#e4834f" stroke-width="1.2" transform="rotate(8 859.3 135.6)"/>
<rect x="-2.8" y="-1" width="5.5" height="2.0" fill="#1c5fae" transform="translate(877 148.5) rotate(62)"/><rect x="-2.1" y="-.9" width="4.2" height="1.8" fill="#a48a58" transform="translate(858.5 151.4) rotate(96)"/><rect x="-2.1" y="-.9" width="4.2" height="1.8" fill="#a48a58" transform="translate(842.1 145.8) rotate(124)"/><rect x="-2.1" y="-.9" width="4.2" height="1.8" fill="#a48a58" transform="translate(834.1 135.2) rotate(170)"/><rect x="-2.8" y="-1" width="5.5" height="2.0" fill="#1c5fae" transform="translate(837.3 125.8) rotate(-135)"/><rect x="-2.1" y="-.9" width="4.2" height="1.8" fill="#a48a58" transform="translate(849.2 120.2) rotate(-101)"/><rect x="-2.1" y="-.9" width="4.2" height="1.8" fill="#a48a58" transform="translate(869.7 122) rotate(-70)"/><rect x="-2.1" y="-.9" width="4.2" height="1.8" fill="#a48a58" transform="translate(883.1 132.3) rotate(-29)"/><rect x="-2.8" y="-1" width="5.5" height="2.0" fill="#1c5fae" transform="translate(884.2 140.8) rotate(18)"/>
<ellipse cx="769.7" cy="151.4" rx="25.5" ry="15.8" fill="none" stroke="#e4834f" stroke-width="1.2" transform="rotate(8 769.7 151.4)"/>
<rect x="-2.8" y="-1" width="5.5" height="2.0" fill="#1c5fae" transform="translate(794.3 157.4) rotate(22)"/><rect x="-2.1" y="-.9" width="4.2" height="1.8" fill="#a48a58" transform="translate(783 166.1) rotate(73)"/><rect x="-2.1" y="-.9" width="4.2" height="1.8" fill="#a48a58" transform="translate(769 167.2) rotate(96)"/><rect x="-2.1" y="-.9" width="4.2" height="1.8" fill="#a48a58" transform="translate(751.3 160.7) rotate(127)"/><rect x="-2.8" y="-1" width="5.5" height="2.0" fill="#1c5fae" transform="translate(744.5 150.8) rotate(171)"/><rect x="-2.1" y="-.9" width="4.2" height="1.8" fill="#a48a58" transform="translate(749.5 140) rotate(-126)"/><rect x="-2.1" y="-.9" width="4.2" height="1.8" fill="#a48a58" transform="translate(765.6 135.4) rotate(-91)"/><rect x="-2.1" y="-.9" width="4.2" height="1.8" fill="#a48a58" transform="translate(780.5 138) rotate(-69)"/><rect x="-2.8" y="-1" width="5.5" height="2.0" fill="#1c5fae" transform="translate(794.2 149.5) rotate(-22)"/>
<ellipse cx="820.6" cy="161" rx="25.5" ry="15.8" fill="none" stroke="#e4834f" stroke-width="1.2" transform="rotate(8 820.6 161)"/>
<rect x="-2.8" y="-1" width="5.5" height="2.0" fill="#1c5fae" transform="translate(845.3 166.7) rotate(21)"/><rect x="-2.1" y="-.9" width="4.2" height="1.8" fill="#a48a58" transform="translate(836.3 174.8) rotate(68)"/><rect x="-2.1" y="-.9" width="4.2" height="1.8" fill="#a48a58" transform="translate(817.6 176.5) rotate(99)"/><rect x="-2.1" y="-.9" width="4.2" height="1.8" fill="#a48a58" transform="translate(801.4 169.8) rotate(129)"/><rect x="-2.8" y="-1" width="5.5" height="2.0" fill="#1c5fae" transform="translate(795.3 160.1) rotate(173)"/><rect x="-2.1" y="-.9" width="4.2" height="1.8" fill="#a48a58" transform="translate(800.3 149.8) rotate(-127)"/><rect x="-2.1" y="-.9" width="4.2" height="1.8" fill="#a48a58" transform="translate(817.1 145) rotate(-90)"/><rect x="-2.1" y="-.9" width="4.2" height="1.8" fill="#a48a58" transform="translate(834.1 148.7) rotate(-64)"/><rect x="-2.8" y="-1" width="5.5" height="2.0" fill="#1c5fae" transform="translate(843.4 156) rotate(-36)"/>
<text x="35.5" y="48.0" font-size="20" text-anchor="start" font-weight="bold" fill="#000" >a</text>
<text x="35.5" y="264.5" font-size="20" text-anchor="start" font-weight="bold" fill="#000" >b</text>
<text x="369.0" y="264.8" font-size="20" text-anchor="start" font-weight="bold" fill="#000" >c</text>
<text x="607.0" y="264.5" font-size="20" text-anchor="start" font-weight="bold" fill="#000" >d</text>
<text x="73.5" y="222.7" font-size="14.5" fill="#231f20" textLength="63" lengthAdjust="spacingAndGlyphs">0% AQP1</text>
<text x="137.2" y="217" font-size="9.5" fill="#231f20" stroke="#231f20" stroke-width="0.3">+</text>
<text x="304.5" y="222.7" font-size="14.5" fill="#231f20" textLength="71" lengthAdjust="spacingAndGlyphs">14% AQP1</text>
<text x="374.2" y="217" font-size="9.5" fill="#231f20" stroke="#231f20" stroke-width="0.3">+</text>
<text x="536.5" y="222.7" font-size="14.5" fill="#231f20" textLength="71" lengthAdjust="spacingAndGlyphs">43% AQP1</text>
<text x="606.2" y="217" font-size="9.5" fill="#231f20" stroke="#231f20" stroke-width="0.3">+</text>
<text x="763.5" y="222.7" font-size="14.5" fill="#231f20" textLength="79" lengthAdjust="spacingAndGlyphs">100% AQP1</text>
<text x="841.2" y="217" font-size="9.5" fill="#231f20" stroke="#231f20" stroke-width="0.3">+</text>
<path d="M107,308.5 V488 H334.0" fill="none" stroke="#231f20" stroke-width="1.3"/>
<path d="M102.5,488.0 H107" stroke="#231f20" stroke-width="1.3"/>
<text x="98.3" y="493.0" font-size="14.2" text-anchor="end" font-weight="normal" fill="#231f20" >0</text>
<path d="M107.0,488 V492.5" stroke="#231f20" stroke-width="1.3"/>
<text x="107.0" y="506.8" font-size="14.2" text-anchor="middle" font-weight="normal" fill="#231f20" >0</text>
<path d="M102.5,452.1 H107" stroke="#231f20" stroke-width="1.3"/>
<text x="98.3" y="457.1" font-size="14.2" text-anchor="end" font-weight="normal" fill="#231f20" >20</text>
<path d="M152.4,488 V492.5" stroke="#231f20" stroke-width="1.3"/>
<text x="152.4" y="506.8" font-size="14.2" text-anchor="middle" font-weight="normal" fill="#231f20" >20</text>
<path d="M102.5,416.2 H107" stroke="#231f20" stroke-width="1.3"/>
<text x="98.3" y="421.2" font-size="14.2" text-anchor="end" font-weight="normal" fill="#231f20" >40</text>
<path d="M197.8,488 V492.5" stroke="#231f20" stroke-width="1.3"/>
<text x="197.8" y="506.8" font-size="14.2" text-anchor="middle" font-weight="normal" fill="#231f20" >40</text>
<path d="M102.5,380.3 H107" stroke="#231f20" stroke-width="1.3"/>
<text x="98.3" y="385.3" font-size="14.2" text-anchor="end" font-weight="normal" fill="#231f20" >60</text>
<path d="M243.2,488 V492.5" stroke="#231f20" stroke-width="1.3"/>
<text x="243.2" y="506.8" font-size="14.2" text-anchor="middle" font-weight="normal" fill="#231f20" >60</text>
<path d="M102.5,344.4 H107" stroke="#231f20" stroke-width="1.3"/>
<text x="98.3" y="349.4" font-size="14.2" text-anchor="end" font-weight="normal" fill="#231f20" >80</text>
<path d="M288.6,488 V492.5" stroke="#231f20" stroke-width="1.3"/>
<text x="288.6" y="506.8" font-size="14.2" text-anchor="middle" font-weight="normal" fill="#231f20" >80</text>
<path d="M102.5,308.5 H107" stroke="#231f20" stroke-width="1.3"/>
<text x="98.3" y="313.5" font-size="14.2" text-anchor="end" font-weight="normal" fill="#231f20" >100</text>
<path d="M334.0,488 V492.5" stroke="#231f20" stroke-width="1.3"/>
<text x="334.0" y="506.8" font-size="14.2" text-anchor="middle" font-weight="normal" fill="#231f20" >100</text>
<text x="131.8" y="527" font-size="15" fill="#231f20" textLength="176.7" lengthAdjust="spacingAndGlyphs">Cells expressing AQP1 (%)</text>
<text transform="translate(64.4,458.7) rotate(-90)" x="0" y="0" font-size="15" fill="#231f20" textLength="126.8" lengthAdjust="spacingAndGlyphs">Change in ADC (%)</text>
<polyline points="107.0,488.0 118.3,486.2 129.7,481.7 152.4,478.8 197.8,469.5 243.2,460.2 311.3,444.9 334.0,441.0" fill="none" stroke="#1d74c6" stroke-width="2.2" stroke-linejoin="round"/>
<polyline points="107.0,488.0 118.3,486.9 129.7,478.1 152.4,468.8 197.8,446.0 243.2,422.8 311.3,368.6 334.0,351.2" fill="none" stroke="#5a9b33" stroke-width="2.2" stroke-linejoin="round"/>
<polyline points="107.0,488.0 118.3,486.6 129.7,478.1 152.4,472.4 197.8,447.4 243.2,421.0 311.3,348.2 334.0,314.4" fill="none" stroke="#ec7d22" stroke-width="2.2" stroke-linejoin="round"/>
<path d="M114.4,314.8 H144.3" stroke="#1d74c6" stroke-width="1.8"/>
<text x="151" y="318.2" font-size="14" fill="#231f20">&#916;<tspan font-size="10.5" dy="5">eff</tspan><tspan dy="-5"> = 18 ms</tspan></text>
<path d="M114.4,335.8 H144.3" stroke="#5a9b33" stroke-width="1.8"/>
<text x="151" y="339.2" font-size="14" fill="#231f20">&#916;<tspan font-size="10.5" dy="5">eff</tspan><tspan dy="-5"> = 98 ms</tspan></text>
<path d="M114.4,356.8 H144.3" stroke="#ec7d22" stroke-width="1.8"/>
<text x="151" y="360.2" font-size="14" fill="#231f20">&#916;<tspan font-size="10.5" dy="5">eff</tspan><tspan dy="-5"> = 398 ms</tspan></text>
<path d="M663,302.4 V488 H892.0" fill="none" stroke="#231f20" stroke-width="1.3"/>
<path d="M658.5,483.1 H663" stroke="#231f20" stroke-width="1.3"/>
<text x="654.5" y="488.1" font-size="14.2" text-anchor="end" font-weight="normal" fill="#231f20" >0</text>
<path d="M658.5,457.3 H663" stroke="#231f20" stroke-width="1.3"/>
<text x="654.5" y="462.3" font-size="14.2" text-anchor="end" font-weight="normal" fill="#231f20" >30</text>
<path d="M658.5,431.5 H663" stroke="#231f20" stroke-width="1.3"/>
<text x="654.5" y="436.5" font-size="14.2" text-anchor="end" font-weight="normal" fill="#231f20" >60</text>
<path d="M658.5,405.7 H663" stroke="#231f20" stroke-width="1.3"/>
<text x="654.5" y="410.7" font-size="14.2" text-anchor="end" font-weight="normal" fill="#231f20" >90</text>
<path d="M658.5,379.8 H663" stroke="#231f20" stroke-width="1.3"/>
<text x="654.5" y="384.8" font-size="14.2" text-anchor="end" font-weight="normal" fill="#231f20" >120</text>
<path d="M658.5,354.0 H663" stroke="#231f20" stroke-width="1.3"/>
<text x="654.5" y="359.0" font-size="14.2" text-anchor="end" font-weight="normal" fill="#231f20" >150</text>
<path d="M658.5,328.2 H663" stroke="#231f20" stroke-width="1.3"/>
<text x="654.5" y="333.2" font-size="14.2" text-anchor="end" font-weight="normal" fill="#231f20" >180</text>
<path d="M658.5,302.4 H663" stroke="#231f20" stroke-width="1.3"/>
<text x="654.5" y="307.4" font-size="14.2" text-anchor="end" font-weight="normal" fill="#231f20" >210</text>
<path d="M664.3,488 V492.5" stroke="#231f20" stroke-width="1.3"/>
<text x="664.3" y="506.8" font-size="14.2" text-anchor="middle" font-weight="normal" fill="#231f20" >0</text>
<path d="M709.8,488 V492.5" stroke="#231f20" stroke-width="1.3"/>
<text x="709.8" y="506.8" font-size="14.2" text-anchor="middle" font-weight="normal" fill="#231f20" >20</text>
<path d="M755.4,488 V492.5" stroke="#231f20" stroke-width="1.3"/>
<text x="755.4" y="506.8" font-size="14.2" text-anchor="middle" font-weight="normal" fill="#231f20" >40</text>
<path d="M800.9,488 V492.5" stroke="#231f20" stroke-width="1.3"/>
<text x="800.9" y="506.8" font-size="14.2" text-anchor="middle" font-weight="normal" fill="#231f20" >60</text>
<path d="M846.5,488 V492.5" stroke="#231f20" stroke-width="1.3"/>
<text x="846.5" y="506.8" font-size="14.2" text-anchor="middle" font-weight="normal" fill="#231f20" >80</text>
<path d="M892.0,488 V492.5" stroke="#231f20" stroke-width="1.3"/>
<text x="892.0" y="506.8" font-size="14.2" text-anchor="middle" font-weight="normal" fill="#231f20" >100</text>
<text x="699.4" y="527" font-size="15" fill="#231f20" textLength="176.7" lengthAdjust="spacingAndGlyphs">Cells expressing AQP1 (%)</text>
<text transform="translate(620.8,458.7) rotate(-90)" x="0" y="0" font-size="15" fill="#231f20" textLength="126.8" lengthAdjust="spacingAndGlyphs">Change in ADC (%)</text>
<polyline points="664.3,483.1 675.7,478.6 687.1,476.5 709.8,480.9 755.4,470.9 800.9,458.7 869.2,455.3 892.0,453.1" fill="none" stroke="#2485d8" stroke-width="2" stroke-linejoin="round"/>
<path d="M675.7,476.9 V480.3 M673.5,476.9 H677.9 M673.5,480.3 H677.9" stroke="#231f20" stroke-width="1.1" fill="none"/>
<path d="M687.1,474.8 V478.2 M684.9,474.8 H689.3 M684.9,478.2 H689.3" stroke="#231f20" stroke-width="1.1" fill="none"/>
<path d="M709.8,479.6 V482.2 M707.6,479.6 H712.0 M707.6,482.2 H712.0" stroke="#231f20" stroke-width="1.1" fill="none"/>
<path d="M755.4,469.2 V472.6 M753.2,469.2 H757.6 M753.2,472.6 H757.6" stroke="#231f20" stroke-width="1.1" fill="none"/>
<path d="M800.9,456.9 V460.4 M798.7,456.9 H803.1 M798.7,460.4 H803.1" stroke="#231f20" stroke-width="1.1" fill="none"/>
<path d="M869.2,451.9 V458.7 M867.0,451.9 H871.4 M867.0,458.7 H871.4" stroke="#231f20" stroke-width="1.1" fill="none"/>
<path d="M892.0,448.8 V457.4 M889.8,448.8 H894.2 M889.8,457.4 H894.2" stroke="#231f20" stroke-width="1.1" fill="none"/>
<circle cx="664.3" cy="483.1" r="4.1" fill="#2485d8"/>
<circle cx="675.7" cy="478.6" r="4.1" fill="#2485d8"/>
<circle cx="687.1" cy="476.5" r="4.1" fill="#2485d8"/>
<circle cx="709.8" cy="480.9" r="4.1" fill="#2485d8"/>
<circle cx="755.4" cy="470.9" r="4.1" fill="#2485d8"/>
<circle cx="800.9" cy="458.7" r="4.1" fill="#2485d8"/>
<circle cx="869.2" cy="455.3" r="4.1" fill="#2485d8"/>
<circle cx="892.0" cy="453.1" r="4.1" fill="#2485d8"/>
<polyline points="664.3,483.1 675.7,475.7 687.1,474.9 709.8,471.2 755.4,451.9 800.9,428.3 869.2,403.1 892.0,390.2" fill="none" stroke="#68ae45" stroke-width="2" stroke-linejoin="round"/>
<path d="M675.7,473.1 V478.3 M673.5,473.1 H677.9 M673.5,478.3 H677.9" stroke="#231f20" stroke-width="1.1" fill="none"/>
<path d="M687.1,472.3 V477.5 M684.9,472.3 H689.3 M684.9,477.5 H689.3" stroke="#231f20" stroke-width="1.1" fill="none"/>
<path d="M709.8,469.5 V472.9 M707.6,469.5 H712.0 M707.6,472.9 H712.0" stroke="#231f20" stroke-width="1.1" fill="none"/>
<path d="M755.4,450.2 V453.7 M753.2,450.2 H757.6 M753.2,453.7 H757.6" stroke="#231f20" stroke-width="1.1" fill="none"/>
<path d="M800.9,426.6 V430.0 M798.7,426.6 H803.1 M798.7,430.0 H803.1" stroke="#231f20" stroke-width="1.1" fill="none"/>
<path d="M869.2,398.8 V407.4 M867.0,398.8 H871.4 M867.0,407.4 H871.4" stroke="#231f20" stroke-width="1.1" fill="none"/>
<path d="M892.0,386.3 V394.0 M889.8,386.3 H894.2 M889.8,394.0 H894.2" stroke="#231f20" stroke-width="1.1" fill="none"/>
<circle cx="664.3" cy="483.1" r="4.1" fill="#68ae45"/>
<circle cx="675.7" cy="475.7" r="4.1" fill="#68ae45"/>
<circle cx="687.1" cy="474.9" r="4.1" fill="#68ae45"/>
<circle cx="709.8" cy="471.2" r="4.1" fill="#68ae45"/>
<circle cx="755.4" cy="451.9" r="4.1" fill="#68ae45"/>
<circle cx="800.9" cy="428.3" r="4.1" fill="#68ae45"/>
<circle cx="869.2" cy="403.1" r="4.1" fill="#68ae45"/>
<circle cx="892.0" cy="390.2" r="4.1" fill="#68ae45"/>
<polyline points="664.3,483.1 675.7,474.6 687.1,464.6 709.8,456.1 755.4,431.6 800.9,398.7 869.2,343.9 892.0,317.9" fill="none" stroke="#f5882a" stroke-width="2" stroke-linejoin="round"/>
<path d="M675.7,468.6 V480.6 M673.5,468.6 H677.9 M673.5,480.6 H677.9" stroke="#231f20" stroke-width="1.1" fill="none"/>
<path d="M687.1,459.0 V470.2 M684.9,459.0 H689.3 M684.9,470.2 H689.3" stroke="#231f20" stroke-width="1.1" fill="none"/>
<path d="M709.8,453.9 V458.2 M707.6,453.9 H712.0 M707.6,458.2 H712.0" stroke="#231f20" stroke-width="1.1" fill="none"/>
<path d="M755.4,426.5 V436.8 M753.2,426.5 H757.6 M753.2,436.8 H757.6" stroke="#231f20" stroke-width="1.1" fill="none"/>
<path d="M800.9,389.5 V407.9 M798.7,389.5 H803.1 M798.7,407.9 H803.1" stroke="#231f20" stroke-width="1.1" fill="none"/>
<path d="M869.2,337.4 V350.3 M867.0,337.4 H871.4 M867.0,350.3 H871.4" stroke="#231f20" stroke-width="1.1" fill="none"/>
<path d="M892.0,307.6 V328.2 M889.8,307.6 H894.2 M889.8,328.2 H894.2" stroke="#231f20" stroke-width="1.1" fill="none"/>
<circle cx="664.3" cy="483.1" r="4.1" fill="#f5882a"/>
<circle cx="675.7" cy="474.6" r="4.1" fill="#f5882a"/>
<circle cx="687.1" cy="464.6" r="4.1" fill="#f5882a"/>
<circle cx="709.8" cy="456.1" r="4.1" fill="#f5882a"/>
<circle cx="755.4" cy="431.6" r="4.1" fill="#f5882a"/>
<circle cx="800.9" cy="398.7" r="4.1" fill="#f5882a"/>
<circle cx="869.2" cy="343.9" r="4.1" fill="#f5882a"/>
<circle cx="892.0" cy="317.9" r="4.1" fill="#f5882a"/>
<path d="M671.6,310.2 H702" stroke="#2485d8" stroke-width="2"/><circle cx="686.8" cy="310.2" r="4.1" fill="#2485d8"/>
<text x="706" y="313.8" font-size="14" fill="#231f20">&#916;<tspan font-size="10.5" dy="5">eff</tspan><tspan dy="-5"> = 18 ms</tspan></text>
<path d="M671.6,331.7 H702" stroke="#68ae45" stroke-width="2"/><circle cx="686.8" cy="331.7" r="4.1" fill="#68ae45"/>
<text x="706" y="335.3" font-size="14" fill="#231f20">&#916;<tspan font-size="10.5" dy="5">eff</tspan><tspan dy="-5"> = 98 ms</tspan></text>
<path d="M671.6,353.2 H702" stroke="#f5882a" stroke-width="2"/><circle cx="686.8" cy="353.2" r="4.1" fill="#f5882a"/>
<text x="706" y="356.8" font-size="14" fill="#231f20">&#916;<tspan font-size="10.5" dy="5">eff</tspan><tspan dy="-5"> = 398 ms</tspan></text>
<defs>
<linearGradient id="hot" x1="0" y1="0" x2="0" y2="1">
<stop offset="0" stop-color="#fffff8"/><stop offset="0.06" stop-color="#fffbd0"/>
<stop offset="0.18" stop-color="#fff560"/><stop offset="0.3" stop-color="#ffec00"/>
<stop offset="0.42" stop-color="#ffb000"/><stop offset="0.55" stop-color="#ff5a00"/>
<stop offset="0.65" stop-color="#e81000"/><stop offset="0.77" stop-color="#900000"/>
<stop offset="0.88" stop-color="#300000"/><stop offset="1" stop-color="#000"/>
</linearGradient>
<radialGradient id="s1"><stop offset="0" stop-color="#fff46a"/><stop offset="0.6" stop-color="#ffe840"/><stop offset="0.82" stop-color="#ffc808"/><stop offset="0.93" stop-color="#f08000"/><stop offset="1" stop-color="#901800" stop-opacity="0.5"/></radialGradient>
<radialGradient id="s20"><stop offset="0" stop-color="#ffe040"/><stop offset="0.55" stop-color="#ffc828"/><stop offset="0.8" stop-color="#ff9a10"/><stop offset="0.93" stop-color="#e05000"/><stop offset="1" stop-color="#801000" stop-opacity="0.5"/></radialGradient>
<radialGradient id="s40"><stop offset="0" stop-color="#ffb030"/><stop offset="0.55" stop-color="#ffa020"/><stop offset="0.8" stop-color="#ff7a08"/><stop offset="0.93" stop-color="#d84000"/><stop offset="1" stop-color="#701000" stop-opacity="0.5"/></radialGradient>
<radialGradient id="s60"><stop offset="0" stop-color="#ff5a18"/><stop offset="0.55" stop-color="#ff4410"/><stop offset="0.8" stop-color="#f82800"/><stop offset="0.93" stop-color="#c01000"/><stop offset="1" stop-color="#600000" stop-opacity="0.5"/></radialGradient>
<radialGradient id="s90"><stop offset="0" stop-color="#7a120a"/><stop offset="0.7" stop-color="#660c06"/><stop offset="1" stop-color="#280000" stop-opacity="0.5"/></radialGradient>
<radialGradient id="t0" fx="0.6" fy="0.62"><stop offset="0" stop-color="#ffd828"/><stop offset="0.45" stop-color="#ffa818"/><stop offset="0.8" stop-color="#ff7a08"/><stop offset="0.93" stop-color="#e04000"/><stop offset="1" stop-color="#801000" stop-opacity="0.5"/></radialGradient>
<radialGradient id="t5"><stop offset="0" stop-color="#ff9a20"/><stop offset="0.55" stop-color="#ff8a18"/><stop offset="0.8" stop-color="#ff6408"/><stop offset="0.93" stop-color="#d83000"/><stop offset="1" stop-color="#701000" stop-opacity="0.5"/></radialGradient>
<radialGradient id="t10"><stop offset="0" stop-color="#ff8a20"/><stop offset="0.55" stop-color="#ff7814"/><stop offset="0.8" stop-color="#f85808"/><stop offset="0.93" stop-color="#d02800"/><stop offset="1" stop-color="#701000" stop-opacity="0.5"/></radialGradient>
<filter id="sb" x="-20%" y="-20%" width="140%" height="140%"><feGaussianBlur stdDeviation="0.6"/></filter>
<filter id="mot" x="0" y="0" width="1" height="1"><feTurbulence type="fractalNoise" baseFrequency="0.22" numOctaves="2" seed="5" result="n"/><feColorMatrix in="n" type="matrix" values="0 0 0 0 0  0 0 0 0 0  0 0 0 0 0  3 0 0 0 -1.2" result="a"/><feComposite in="a" in2="SourceGraphic" operator="in" result="c"/><feGaussianBlur in="c" stdDeviation="0.5"/></filter>
</defs>
<rect x="368" y="273" width="180" height="177" fill="#000"/>
<rect x="368" y="464" width="180" height="62" fill="#000"/>
<rect x="552.5" y="280.5" width="9.3" height="169.5" fill="url(#hot)"/>
<rect x="552.5" y="464.5" width="9.3" height="61" fill="url(#hot)"/>
<circle cx="393.3" cy="291.7" r="10.3" fill="url(#s1)" filter="url(#sb)"/>
<circle cx="393.3" cy="291.7" r="9.5" fill="#000" filter="url(#mot)" opacity="0.08"/>
<circle cx="458.3" cy="291.7" r="10.3" fill="url(#s1)" filter="url(#sb)"/>
<circle cx="458.3" cy="291.7" r="9.5" fill="#000" filter="url(#mot)" opacity="0.08"/>
<circle cx="524.7" cy="291.7" r="10.3" fill="url(#s1)" filter="url(#sb)"/>
<circle cx="524.7" cy="291.7" r="9.5" fill="#000" filter="url(#mot)" opacity="0.08"/>
<circle cx="392.4" cy="353.3" r="10.3" fill="url(#s20)" filter="url(#sb)"/>
<circle cx="392.4" cy="353.3" r="9.5" fill="#000" filter="url(#mot)" opacity="0.14"/>
<circle cx="457.3" cy="353.3" r="10.3" fill="url(#s40)" filter="url(#sb)"/>
<circle cx="457.3" cy="353.3" r="9.5" fill="#000" filter="url(#mot)" opacity="0.2"/>
<circle cx="525.3" cy="353.3" r="10.3" fill="url(#s60)" filter="url(#sb)"/>
<circle cx="525.3" cy="353.3" r="9.5" fill="#000" filter="url(#mot)" opacity="0.22"/>
<circle cx="392.4" cy="416.5" r="9.5" fill="url(#s90)" filter="url(#sb)"/>
<circle cx="392.4" cy="416.5" r="8.7" fill="#000" filter="url(#mot)" opacity="0.5"/>
<circle cx="459.1" cy="414.4" r="9.5" fill="url(#s90)" filter="url(#sb)"/>
<circle cx="459.1" cy="414.4" r="8.7" fill="#000" filter="url(#mot)" opacity="0.5"/>
<circle cx="388.5" cy="484.0" r="11" fill="url(#t0)" filter="url(#sb)"/>
<circle cx="388.5" cy="484.0" r="10.2" fill="#000" filter="url(#mot)" opacity="0.18"/>
<circle cx="459" cy="484.0" r="10.8" fill="url(#t5)" filter="url(#sb)"/>
<circle cx="459" cy="484.0" r="10.0" fill="#000" filter="url(#mot)" opacity="0.2"/>
<circle cx="527.8" cy="484.5" r="10.5" fill="url(#t10)" filter="url(#sb)"/>
<circle cx="527.8" cy="484.5" r="9.7" fill="#000" filter="url(#mot)" opacity="0.3"/>
<text x="393.3" y="319" font-size="14.3" fill="#fff" stroke="#fff" stroke-width="0.35" text-anchor="middle">0%</text>
<text x="458.3" y="319" font-size="14.3" fill="#fff" stroke="#fff" stroke-width="0.35" text-anchor="middle">5%</text>
<text x="524.7" y="319" font-size="14.3" fill="#fff" stroke="#fff" stroke-width="0.35" text-anchor="middle">10%</text>
<text x="393.5" y="379.3" font-size="14.3" fill="#fff" stroke="#fff" stroke-width="0.35" text-anchor="middle">20%</text>
<text x="459.5" y="379.3" font-size="14.3" fill="#fff" stroke="#fff" stroke-width="0.35" text-anchor="middle">40%</text>
<text x="525" y="379.3" font-size="14.3" fill="#fff" stroke="#fff" stroke-width="0.35" text-anchor="middle">60%</text>
<text x="393.3" y="443.8" font-size="14.3" fill="#fff" stroke="#fff" stroke-width="0.35" text-anchor="middle">90%</text>
<text x="460.2" y="443.8" font-size="14.3" fill="#fff" stroke="#fff" stroke-width="0.35" text-anchor="middle">100%</text>
<text x="393.5" y="510.6" font-size="14.3" fill="#fff" stroke="#fff" stroke-width="0.35" text-anchor="middle">0%</text>
<text x="459.6" y="510.6" font-size="14.3" fill="#fff" stroke="#fff" stroke-width="0.35" text-anchor="middle">5%</text>
<text x="527.3" y="510.6" font-size="14.3" fill="#fff" stroke="#fff" stroke-width="0.35" text-anchor="middle">10%</text>
<rect x="523" y="441.2" width="19" height="2.8" fill="#fff"/>
<rect x="523" y="516.3" width="18.5" height="3" fill="#fff"/>
<text x="565.0" y="281.5" font-size="14.2" text-anchor="start" font-weight="normal" fill="#231f20" >255</text>
<text x="565.0" y="449.2" font-size="14.2" text-anchor="start" font-weight="normal" fill="#231f20" >55</text>
<text x="565.0" y="476.2" font-size="14.2" text-anchor="start" font-weight="normal" fill="#231f20" >67</text>
<text x="565.0" y="522.2" font-size="14.2" text-anchor="start" font-weight="normal" fill="#231f20" >14</text>
</svg>
</body></html>
